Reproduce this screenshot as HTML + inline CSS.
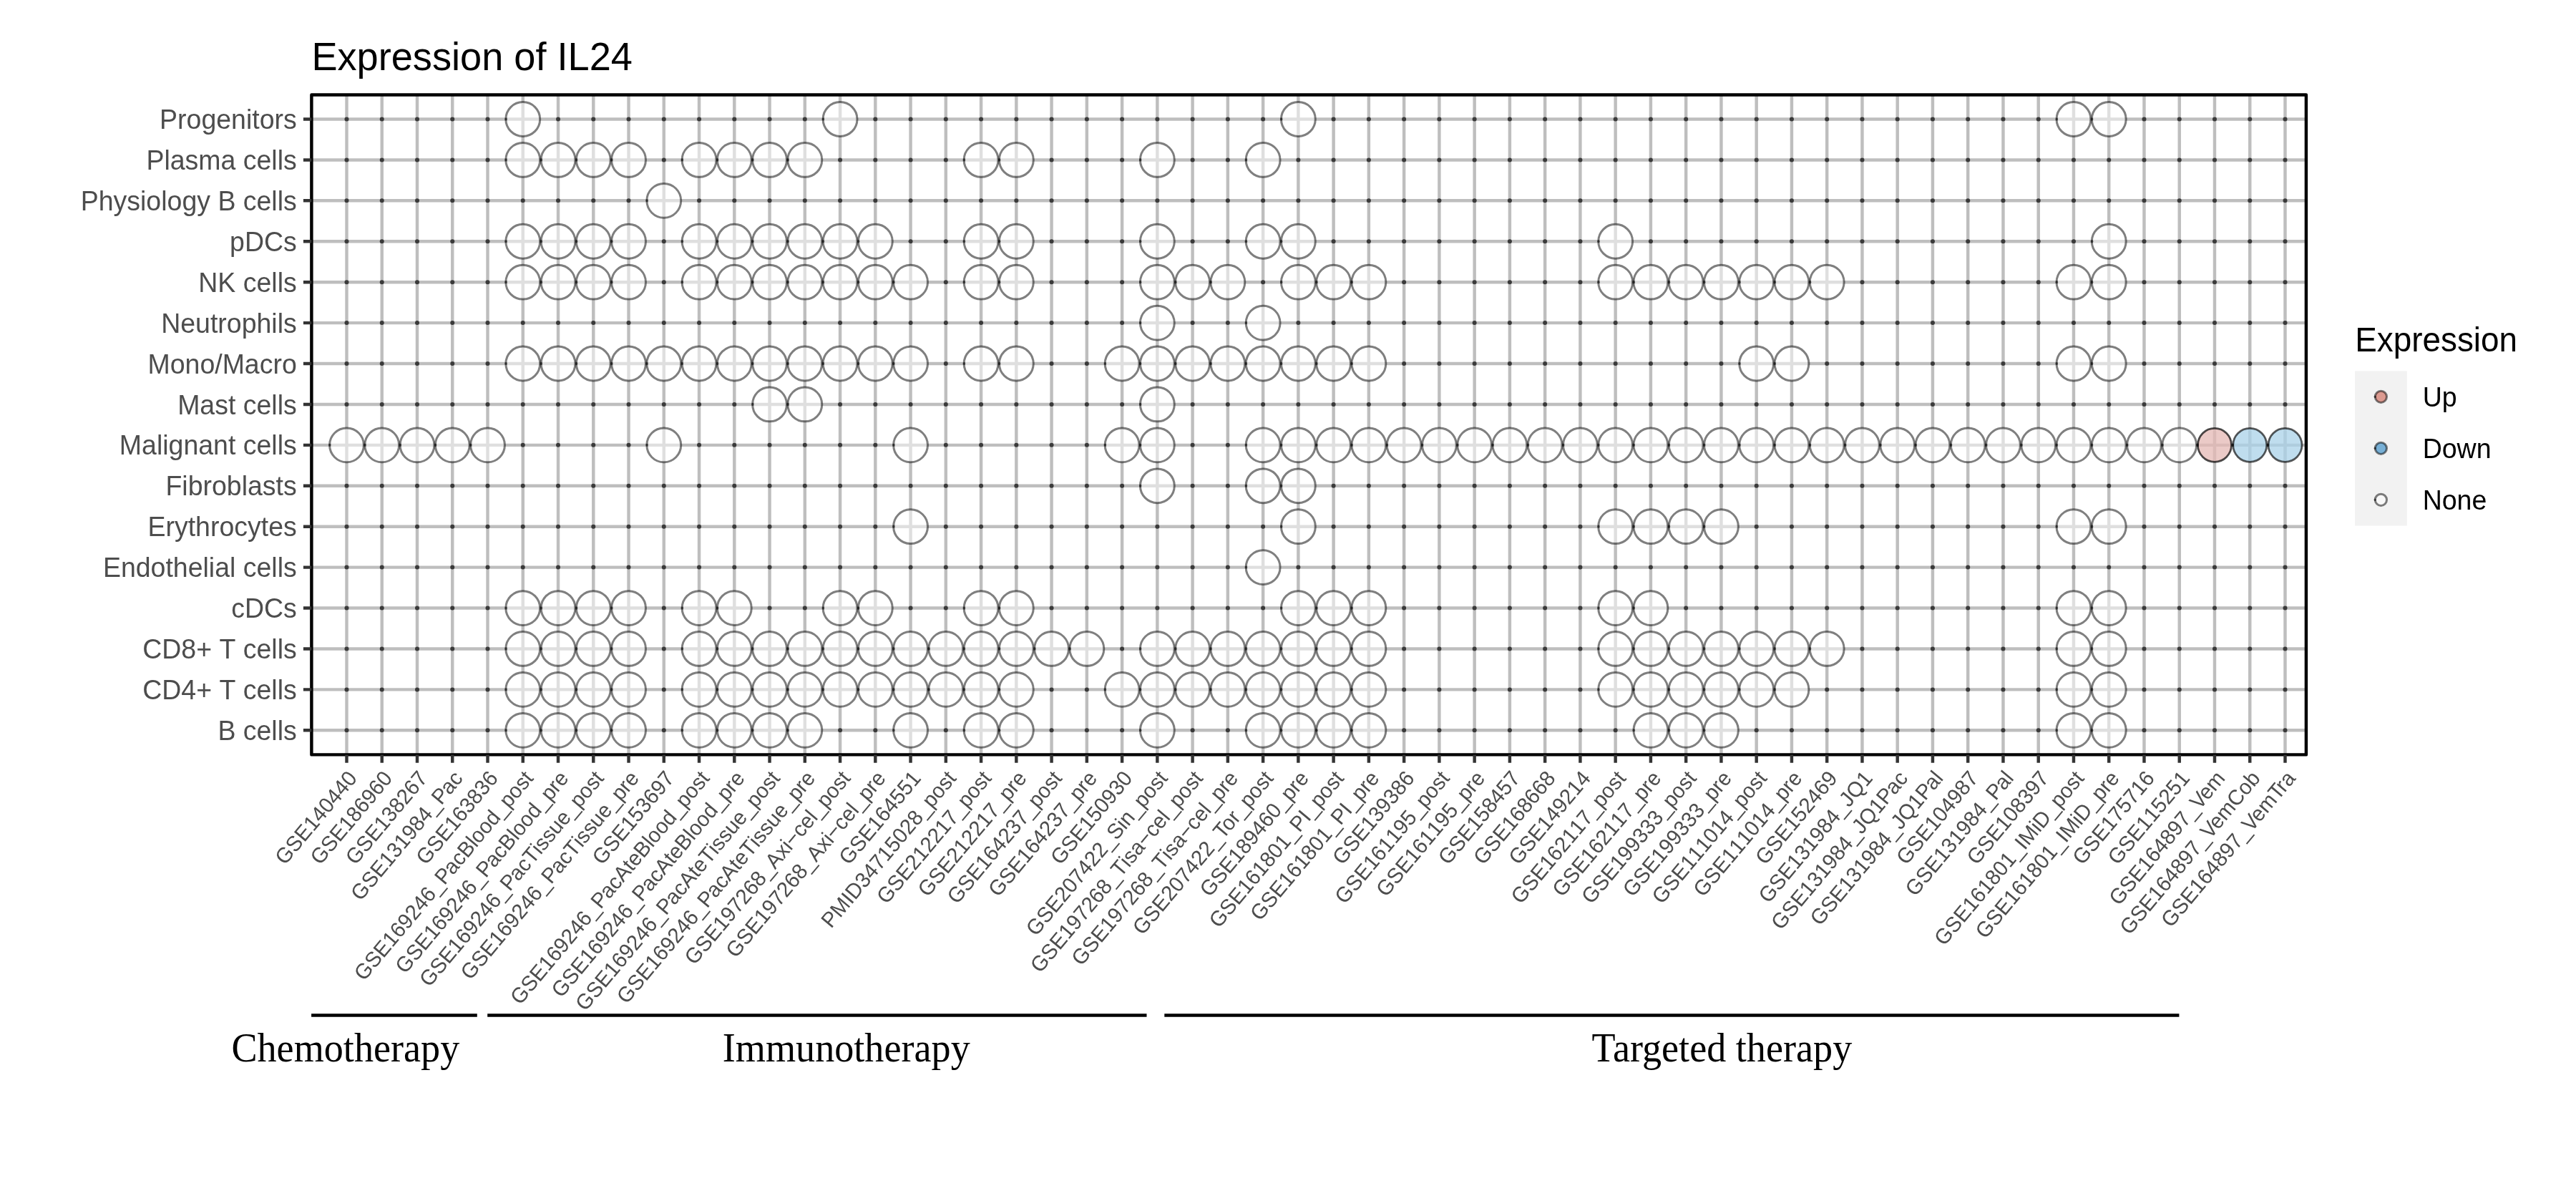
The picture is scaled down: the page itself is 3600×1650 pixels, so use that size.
<!DOCTYPE html>
<html><head><meta charset="utf-8"><title>Expression of IL24</title>
<style>html,body{margin:0;padding:0;background:#fff;width:3600px;height:1650px;overflow:hidden;}svg{display:block;will-change:transform;}text{font-family:"Liberation Sans",sans-serif;font-kerning:none;}text.serif{font-family:"Liberation Serif",serif;font-kerning:normal;}</style></head><body>
<svg width="3600" height="1650" viewBox="0 0 3600 1650">
<rect x="0" y="0" width="3600" height="1650" fill="#ffffff"/>
<text transform="translate(435.4,97.9) scale(1,1.03)" font-size="54.17" fill="#000">Expression of IL24</text>
<path d="M484.50 132.5V1054.4M533.75 132.5V1054.4M583.01 132.5V1054.4M632.26 132.5V1054.4M681.52 132.5V1054.4M730.77 132.5V1054.4M780.03 132.5V1054.4M829.28 132.5V1054.4M878.54 132.5V1054.4M927.79 132.5V1054.4M977.05 132.5V1054.4M1026.30 132.5V1054.4M1075.55 132.5V1054.4M1124.81 132.5V1054.4M1174.06 132.5V1054.4M1223.32 132.5V1054.4M1272.57 132.5V1054.4M1321.83 132.5V1054.4M1371.08 132.5V1054.4M1420.34 132.5V1054.4M1469.59 132.5V1054.4M1518.85 132.5V1054.4M1568.10 132.5V1054.4M1617.35 132.5V1054.4M1666.61 132.5V1054.4M1715.86 132.5V1054.4M1765.12 132.5V1054.4M1814.37 132.5V1054.4M1863.63 132.5V1054.4M1912.88 132.5V1054.4M1962.14 132.5V1054.4M2011.39 132.5V1054.4M2060.65 132.5V1054.4M2109.90 132.5V1054.4M2159.15 132.5V1054.4M2208.41 132.5V1054.4M2257.66 132.5V1054.4M2306.92 132.5V1054.4M2356.17 132.5V1054.4M2405.43 132.5V1054.4M2454.68 132.5V1054.4M2503.94 132.5V1054.4M2553.19 132.5V1054.4M2602.45 132.5V1054.4M2651.70 132.5V1054.4M2700.95 132.5V1054.4M2750.21 132.5V1054.4M2799.46 132.5V1054.4M2848.72 132.5V1054.4M2897.97 132.5V1054.4M2947.23 132.5V1054.4M2996.48 132.5V1054.4M3045.74 132.5V1054.4M3094.99 132.5V1054.4M3144.25 132.5V1054.4M3193.50 132.5V1054.4M435.4 166.50H3222.9M435.4 223.42H3222.9M435.4 280.34H3222.9M435.4 337.26H3222.9M435.4 394.18H3222.9M435.4 451.10H3222.9M435.4 508.02H3222.9M435.4 564.94H3222.9M435.4 621.86H3222.9M435.4 678.78H3222.9M435.4 735.70H3222.9M435.4 792.62H3222.9M435.4 849.54H3222.9M435.4 906.46H3222.9M435.4 963.38H3222.9M435.4 1020.30H3222.9" stroke="#bebebe" stroke-width="4.44" fill="none"/>
<g fill="#3a3a3a"><circle cx="484.50" cy="166.50" r="3.0"/><circle cx="533.75" cy="166.50" r="3.0"/><circle cx="583.01" cy="166.50" r="3.0"/><circle cx="632.26" cy="166.50" r="3.0"/><circle cx="681.52" cy="166.50" r="3.0"/><circle cx="780.03" cy="166.50" r="3.0"/><circle cx="829.28" cy="166.50" r="3.0"/><circle cx="878.54" cy="166.50" r="3.0"/><circle cx="927.79" cy="166.50" r="3.0"/><circle cx="977.05" cy="166.50" r="3.0"/><circle cx="1026.30" cy="166.50" r="3.0"/><circle cx="1075.55" cy="166.50" r="3.0"/><circle cx="1124.81" cy="166.50" r="3.0"/><circle cx="1223.32" cy="166.50" r="3.0"/><circle cx="1272.57" cy="166.50" r="3.0"/><circle cx="1321.83" cy="166.50" r="3.0"/><circle cx="1371.08" cy="166.50" r="3.0"/><circle cx="1420.34" cy="166.50" r="3.0"/><circle cx="1469.59" cy="166.50" r="3.0"/><circle cx="1518.85" cy="166.50" r="3.0"/><circle cx="1568.10" cy="166.50" r="3.0"/><circle cx="1617.35" cy="166.50" r="3.0"/><circle cx="1666.61" cy="166.50" r="3.0"/><circle cx="1715.86" cy="166.50" r="3.0"/><circle cx="1765.12" cy="166.50" r="3.0"/><circle cx="1863.63" cy="166.50" r="3.0"/><circle cx="1912.88" cy="166.50" r="3.0"/><circle cx="1962.14" cy="166.50" r="3.0"/><circle cx="2011.39" cy="166.50" r="3.0"/><circle cx="2060.65" cy="166.50" r="3.0"/><circle cx="2109.90" cy="166.50" r="3.0"/><circle cx="2159.15" cy="166.50" r="3.0"/><circle cx="2208.41" cy="166.50" r="3.0"/><circle cx="2257.66" cy="166.50" r="3.0"/><circle cx="2306.92" cy="166.50" r="3.0"/><circle cx="2356.17" cy="166.50" r="3.0"/><circle cx="2405.43" cy="166.50" r="3.0"/><circle cx="2454.68" cy="166.50" r="3.0"/><circle cx="2503.94" cy="166.50" r="3.0"/><circle cx="2553.19" cy="166.50" r="3.0"/><circle cx="2602.45" cy="166.50" r="3.0"/><circle cx="2651.70" cy="166.50" r="3.0"/><circle cx="2700.95" cy="166.50" r="3.0"/><circle cx="2750.21" cy="166.50" r="3.0"/><circle cx="2799.46" cy="166.50" r="3.0"/><circle cx="2848.72" cy="166.50" r="3.0"/><circle cx="2996.48" cy="166.50" r="3.0"/><circle cx="3045.74" cy="166.50" r="3.0"/><circle cx="3094.99" cy="166.50" r="3.0"/><circle cx="3144.25" cy="166.50" r="3.0"/><circle cx="3193.50" cy="166.50" r="3.0"/><circle cx="484.50" cy="223.42" r="3.0"/><circle cx="533.75" cy="223.42" r="3.0"/><circle cx="583.01" cy="223.42" r="3.0"/><circle cx="632.26" cy="223.42" r="3.0"/><circle cx="681.52" cy="223.42" r="3.0"/><circle cx="927.79" cy="223.42" r="3.0"/><circle cx="1174.06" cy="223.42" r="3.0"/><circle cx="1223.32" cy="223.42" r="3.0"/><circle cx="1272.57" cy="223.42" r="3.0"/><circle cx="1321.83" cy="223.42" r="3.0"/><circle cx="1469.59" cy="223.42" r="3.0"/><circle cx="1518.85" cy="223.42" r="3.0"/><circle cx="1568.10" cy="223.42" r="3.0"/><circle cx="1666.61" cy="223.42" r="3.0"/><circle cx="1715.86" cy="223.42" r="3.0"/><circle cx="1814.37" cy="223.42" r="3.0"/><circle cx="1863.63" cy="223.42" r="3.0"/><circle cx="1912.88" cy="223.42" r="3.0"/><circle cx="1962.14" cy="223.42" r="3.0"/><circle cx="2011.39" cy="223.42" r="3.0"/><circle cx="2060.65" cy="223.42" r="3.0"/><circle cx="2109.90" cy="223.42" r="3.0"/><circle cx="2159.15" cy="223.42" r="3.0"/><circle cx="2208.41" cy="223.42" r="3.0"/><circle cx="2257.66" cy="223.42" r="3.0"/><circle cx="2306.92" cy="223.42" r="3.0"/><circle cx="2356.17" cy="223.42" r="3.0"/><circle cx="2405.43" cy="223.42" r="3.0"/><circle cx="2454.68" cy="223.42" r="3.0"/><circle cx="2503.94" cy="223.42" r="3.0"/><circle cx="2553.19" cy="223.42" r="3.0"/><circle cx="2602.45" cy="223.42" r="3.0"/><circle cx="2651.70" cy="223.42" r="3.0"/><circle cx="2700.95" cy="223.42" r="3.0"/><circle cx="2750.21" cy="223.42" r="3.0"/><circle cx="2799.46" cy="223.42" r="3.0"/><circle cx="2848.72" cy="223.42" r="3.0"/><circle cx="2897.97" cy="223.42" r="3.0"/><circle cx="2947.23" cy="223.42" r="3.0"/><circle cx="2996.48" cy="223.42" r="3.0"/><circle cx="3045.74" cy="223.42" r="3.0"/><circle cx="3094.99" cy="223.42" r="3.0"/><circle cx="3144.25" cy="223.42" r="3.0"/><circle cx="3193.50" cy="223.42" r="3.0"/><circle cx="484.50" cy="280.34" r="3.0"/><circle cx="533.75" cy="280.34" r="3.0"/><circle cx="583.01" cy="280.34" r="3.0"/><circle cx="632.26" cy="280.34" r="3.0"/><circle cx="681.52" cy="280.34" r="3.0"/><circle cx="730.77" cy="280.34" r="3.0"/><circle cx="780.03" cy="280.34" r="3.0"/><circle cx="829.28" cy="280.34" r="3.0"/><circle cx="878.54" cy="280.34" r="3.0"/><circle cx="977.05" cy="280.34" r="3.0"/><circle cx="1026.30" cy="280.34" r="3.0"/><circle cx="1075.55" cy="280.34" r="3.0"/><circle cx="1124.81" cy="280.34" r="3.0"/><circle cx="1174.06" cy="280.34" r="3.0"/><circle cx="1223.32" cy="280.34" r="3.0"/><circle cx="1272.57" cy="280.34" r="3.0"/><circle cx="1321.83" cy="280.34" r="3.0"/><circle cx="1371.08" cy="280.34" r="3.0"/><circle cx="1420.34" cy="280.34" r="3.0"/><circle cx="1469.59" cy="280.34" r="3.0"/><circle cx="1518.85" cy="280.34" r="3.0"/><circle cx="1568.10" cy="280.34" r="3.0"/><circle cx="1617.35" cy="280.34" r="3.0"/><circle cx="1666.61" cy="280.34" r="3.0"/><circle cx="1715.86" cy="280.34" r="3.0"/><circle cx="1765.12" cy="280.34" r="3.0"/><circle cx="1814.37" cy="280.34" r="3.0"/><circle cx="1863.63" cy="280.34" r="3.0"/><circle cx="1912.88" cy="280.34" r="3.0"/><circle cx="1962.14" cy="280.34" r="3.0"/><circle cx="2011.39" cy="280.34" r="3.0"/><circle cx="2060.65" cy="280.34" r="3.0"/><circle cx="2109.90" cy="280.34" r="3.0"/><circle cx="2159.15" cy="280.34" r="3.0"/><circle cx="2208.41" cy="280.34" r="3.0"/><circle cx="2257.66" cy="280.34" r="3.0"/><circle cx="2306.92" cy="280.34" r="3.0"/><circle cx="2356.17" cy="280.34" r="3.0"/><circle cx="2405.43" cy="280.34" r="3.0"/><circle cx="2454.68" cy="280.34" r="3.0"/><circle cx="2503.94" cy="280.34" r="3.0"/><circle cx="2553.19" cy="280.34" r="3.0"/><circle cx="2602.45" cy="280.34" r="3.0"/><circle cx="2651.70" cy="280.34" r="3.0"/><circle cx="2700.95" cy="280.34" r="3.0"/><circle cx="2750.21" cy="280.34" r="3.0"/><circle cx="2799.46" cy="280.34" r="3.0"/><circle cx="2848.72" cy="280.34" r="3.0"/><circle cx="2897.97" cy="280.34" r="3.0"/><circle cx="2947.23" cy="280.34" r="3.0"/><circle cx="2996.48" cy="280.34" r="3.0"/><circle cx="3045.74" cy="280.34" r="3.0"/><circle cx="3094.99" cy="280.34" r="3.0"/><circle cx="3144.25" cy="280.34" r="3.0"/><circle cx="3193.50" cy="280.34" r="3.0"/><circle cx="484.50" cy="337.26" r="3.0"/><circle cx="533.75" cy="337.26" r="3.0"/><circle cx="583.01" cy="337.26" r="3.0"/><circle cx="632.26" cy="337.26" r="3.0"/><circle cx="681.52" cy="337.26" r="3.0"/><circle cx="927.79" cy="337.26" r="3.0"/><circle cx="1272.57" cy="337.26" r="3.0"/><circle cx="1321.83" cy="337.26" r="3.0"/><circle cx="1469.59" cy="337.26" r="3.0"/><circle cx="1518.85" cy="337.26" r="3.0"/><circle cx="1568.10" cy="337.26" r="3.0"/><circle cx="1666.61" cy="337.26" r="3.0"/><circle cx="1715.86" cy="337.26" r="3.0"/><circle cx="1863.63" cy="337.26" r="3.0"/><circle cx="1912.88" cy="337.26" r="3.0"/><circle cx="1962.14" cy="337.26" r="3.0"/><circle cx="2011.39" cy="337.26" r="3.0"/><circle cx="2060.65" cy="337.26" r="3.0"/><circle cx="2109.90" cy="337.26" r="3.0"/><circle cx="2159.15" cy="337.26" r="3.0"/><circle cx="2208.41" cy="337.26" r="3.0"/><circle cx="2306.92" cy="337.26" r="3.0"/><circle cx="2356.17" cy="337.26" r="3.0"/><circle cx="2405.43" cy="337.26" r="3.0"/><circle cx="2454.68" cy="337.26" r="3.0"/><circle cx="2503.94" cy="337.26" r="3.0"/><circle cx="2553.19" cy="337.26" r="3.0"/><circle cx="2602.45" cy="337.26" r="3.0"/><circle cx="2651.70" cy="337.26" r="3.0"/><circle cx="2700.95" cy="337.26" r="3.0"/><circle cx="2750.21" cy="337.26" r="3.0"/><circle cx="2799.46" cy="337.26" r="3.0"/><circle cx="2848.72" cy="337.26" r="3.0"/><circle cx="2897.97" cy="337.26" r="3.0"/><circle cx="2996.48" cy="337.26" r="3.0"/><circle cx="3045.74" cy="337.26" r="3.0"/><circle cx="3094.99" cy="337.26" r="3.0"/><circle cx="3144.25" cy="337.26" r="3.0"/><circle cx="3193.50" cy="337.26" r="3.0"/><circle cx="484.50" cy="394.18" r="3.0"/><circle cx="533.75" cy="394.18" r="3.0"/><circle cx="583.01" cy="394.18" r="3.0"/><circle cx="632.26" cy="394.18" r="3.0"/><circle cx="681.52" cy="394.18" r="3.0"/><circle cx="927.79" cy="394.18" r="3.0"/><circle cx="1321.83" cy="394.18" r="3.0"/><circle cx="1469.59" cy="394.18" r="3.0"/><circle cx="1518.85" cy="394.18" r="3.0"/><circle cx="1568.10" cy="394.18" r="3.0"/><circle cx="1765.12" cy="394.18" r="3.0"/><circle cx="1962.14" cy="394.18" r="3.0"/><circle cx="2011.39" cy="394.18" r="3.0"/><circle cx="2060.65" cy="394.18" r="3.0"/><circle cx="2109.90" cy="394.18" r="3.0"/><circle cx="2159.15" cy="394.18" r="3.0"/><circle cx="2208.41" cy="394.18" r="3.0"/><circle cx="2602.45" cy="394.18" r="3.0"/><circle cx="2651.70" cy="394.18" r="3.0"/><circle cx="2700.95" cy="394.18" r="3.0"/><circle cx="2750.21" cy="394.18" r="3.0"/><circle cx="2799.46" cy="394.18" r="3.0"/><circle cx="2848.72" cy="394.18" r="3.0"/><circle cx="2996.48" cy="394.18" r="3.0"/><circle cx="3045.74" cy="394.18" r="3.0"/><circle cx="3094.99" cy="394.18" r="3.0"/><circle cx="3144.25" cy="394.18" r="3.0"/><circle cx="3193.50" cy="394.18" r="3.0"/><circle cx="484.50" cy="451.10" r="3.0"/><circle cx="533.75" cy="451.10" r="3.0"/><circle cx="583.01" cy="451.10" r="3.0"/><circle cx="632.26" cy="451.10" r="3.0"/><circle cx="681.52" cy="451.10" r="3.0"/><circle cx="730.77" cy="451.10" r="3.0"/><circle cx="780.03" cy="451.10" r="3.0"/><circle cx="829.28" cy="451.10" r="3.0"/><circle cx="878.54" cy="451.10" r="3.0"/><circle cx="927.79" cy="451.10" r="3.0"/><circle cx="977.05" cy="451.10" r="3.0"/><circle cx="1026.30" cy="451.10" r="3.0"/><circle cx="1075.55" cy="451.10" r="3.0"/><circle cx="1124.81" cy="451.10" r="3.0"/><circle cx="1174.06" cy="451.10" r="3.0"/><circle cx="1223.32" cy="451.10" r="3.0"/><circle cx="1272.57" cy="451.10" r="3.0"/><circle cx="1321.83" cy="451.10" r="3.0"/><circle cx="1371.08" cy="451.10" r="3.0"/><circle cx="1420.34" cy="451.10" r="3.0"/><circle cx="1469.59" cy="451.10" r="3.0"/><circle cx="1518.85" cy="451.10" r="3.0"/><circle cx="1568.10" cy="451.10" r="3.0"/><circle cx="1666.61" cy="451.10" r="3.0"/><circle cx="1715.86" cy="451.10" r="3.0"/><circle cx="1814.37" cy="451.10" r="3.0"/><circle cx="1863.63" cy="451.10" r="3.0"/><circle cx="1912.88" cy="451.10" r="3.0"/><circle cx="1962.14" cy="451.10" r="3.0"/><circle cx="2011.39" cy="451.10" r="3.0"/><circle cx="2060.65" cy="451.10" r="3.0"/><circle cx="2109.90" cy="451.10" r="3.0"/><circle cx="2159.15" cy="451.10" r="3.0"/><circle cx="2208.41" cy="451.10" r="3.0"/><circle cx="2257.66" cy="451.10" r="3.0"/><circle cx="2306.92" cy="451.10" r="3.0"/><circle cx="2356.17" cy="451.10" r="3.0"/><circle cx="2405.43" cy="451.10" r="3.0"/><circle cx="2454.68" cy="451.10" r="3.0"/><circle cx="2503.94" cy="451.10" r="3.0"/><circle cx="2553.19" cy="451.10" r="3.0"/><circle cx="2602.45" cy="451.10" r="3.0"/><circle cx="2651.70" cy="451.10" r="3.0"/><circle cx="2700.95" cy="451.10" r="3.0"/><circle cx="2750.21" cy="451.10" r="3.0"/><circle cx="2799.46" cy="451.10" r="3.0"/><circle cx="2848.72" cy="451.10" r="3.0"/><circle cx="2897.97" cy="451.10" r="3.0"/><circle cx="2947.23" cy="451.10" r="3.0"/><circle cx="2996.48" cy="451.10" r="3.0"/><circle cx="3045.74" cy="451.10" r="3.0"/><circle cx="3094.99" cy="451.10" r="3.0"/><circle cx="3144.25" cy="451.10" r="3.0"/><circle cx="3193.50" cy="451.10" r="3.0"/><circle cx="484.50" cy="508.02" r="3.0"/><circle cx="533.75" cy="508.02" r="3.0"/><circle cx="583.01" cy="508.02" r="3.0"/><circle cx="632.26" cy="508.02" r="3.0"/><circle cx="681.52" cy="508.02" r="3.0"/><circle cx="1321.83" cy="508.02" r="3.0"/><circle cx="1469.59" cy="508.02" r="3.0"/><circle cx="1518.85" cy="508.02" r="3.0"/><circle cx="1962.14" cy="508.02" r="3.0"/><circle cx="2011.39" cy="508.02" r="3.0"/><circle cx="2060.65" cy="508.02" r="3.0"/><circle cx="2109.90" cy="508.02" r="3.0"/><circle cx="2159.15" cy="508.02" r="3.0"/><circle cx="2208.41" cy="508.02" r="3.0"/><circle cx="2257.66" cy="508.02" r="3.0"/><circle cx="2306.92" cy="508.02" r="3.0"/><circle cx="2356.17" cy="508.02" r="3.0"/><circle cx="2405.43" cy="508.02" r="3.0"/><circle cx="2553.19" cy="508.02" r="3.0"/><circle cx="2602.45" cy="508.02" r="3.0"/><circle cx="2651.70" cy="508.02" r="3.0"/><circle cx="2700.95" cy="508.02" r="3.0"/><circle cx="2750.21" cy="508.02" r="3.0"/><circle cx="2799.46" cy="508.02" r="3.0"/><circle cx="2848.72" cy="508.02" r="3.0"/><circle cx="2996.48" cy="508.02" r="3.0"/><circle cx="3045.74" cy="508.02" r="3.0"/><circle cx="3094.99" cy="508.02" r="3.0"/><circle cx="3144.25" cy="508.02" r="3.0"/><circle cx="3193.50" cy="508.02" r="3.0"/><circle cx="484.50" cy="564.94" r="3.0"/><circle cx="533.75" cy="564.94" r="3.0"/><circle cx="583.01" cy="564.94" r="3.0"/><circle cx="632.26" cy="564.94" r="3.0"/><circle cx="681.52" cy="564.94" r="3.0"/><circle cx="730.77" cy="564.94" r="3.0"/><circle cx="780.03" cy="564.94" r="3.0"/><circle cx="829.28" cy="564.94" r="3.0"/><circle cx="878.54" cy="564.94" r="3.0"/><circle cx="927.79" cy="564.94" r="3.0"/><circle cx="977.05" cy="564.94" r="3.0"/><circle cx="1026.30" cy="564.94" r="3.0"/><circle cx="1174.06" cy="564.94" r="3.0"/><circle cx="1223.32" cy="564.94" r="3.0"/><circle cx="1272.57" cy="564.94" r="3.0"/><circle cx="1321.83" cy="564.94" r="3.0"/><circle cx="1371.08" cy="564.94" r="3.0"/><circle cx="1420.34" cy="564.94" r="3.0"/><circle cx="1469.59" cy="564.94" r="3.0"/><circle cx="1518.85" cy="564.94" r="3.0"/><circle cx="1568.10" cy="564.94" r="3.0"/><circle cx="1666.61" cy="564.94" r="3.0"/><circle cx="1715.86" cy="564.94" r="3.0"/><circle cx="1765.12" cy="564.94" r="3.0"/><circle cx="1814.37" cy="564.94" r="3.0"/><circle cx="1863.63" cy="564.94" r="3.0"/><circle cx="1912.88" cy="564.94" r="3.0"/><circle cx="1962.14" cy="564.94" r="3.0"/><circle cx="2011.39" cy="564.94" r="3.0"/><circle cx="2060.65" cy="564.94" r="3.0"/><circle cx="2109.90" cy="564.94" r="3.0"/><circle cx="2159.15" cy="564.94" r="3.0"/><circle cx="2208.41" cy="564.94" r="3.0"/><circle cx="2257.66" cy="564.94" r="3.0"/><circle cx="2306.92" cy="564.94" r="3.0"/><circle cx="2356.17" cy="564.94" r="3.0"/><circle cx="2405.43" cy="564.94" r="3.0"/><circle cx="2454.68" cy="564.94" r="3.0"/><circle cx="2503.94" cy="564.94" r="3.0"/><circle cx="2553.19" cy="564.94" r="3.0"/><circle cx="2602.45" cy="564.94" r="3.0"/><circle cx="2651.70" cy="564.94" r="3.0"/><circle cx="2700.95" cy="564.94" r="3.0"/><circle cx="2750.21" cy="564.94" r="3.0"/><circle cx="2799.46" cy="564.94" r="3.0"/><circle cx="2848.72" cy="564.94" r="3.0"/><circle cx="2897.97" cy="564.94" r="3.0"/><circle cx="2947.23" cy="564.94" r="3.0"/><circle cx="2996.48" cy="564.94" r="3.0"/><circle cx="3045.74" cy="564.94" r="3.0"/><circle cx="3094.99" cy="564.94" r="3.0"/><circle cx="3144.25" cy="564.94" r="3.0"/><circle cx="3193.50" cy="564.94" r="3.0"/><circle cx="730.77" cy="621.86" r="3.0"/><circle cx="780.03" cy="621.86" r="3.0"/><circle cx="829.28" cy="621.86" r="3.0"/><circle cx="878.54" cy="621.86" r="3.0"/><circle cx="977.05" cy="621.86" r="3.0"/><circle cx="1026.30" cy="621.86" r="3.0"/><circle cx="1075.55" cy="621.86" r="3.0"/><circle cx="1124.81" cy="621.86" r="3.0"/><circle cx="1174.06" cy="621.86" r="3.0"/><circle cx="1223.32" cy="621.86" r="3.0"/><circle cx="1321.83" cy="621.86" r="3.0"/><circle cx="1371.08" cy="621.86" r="3.0"/><circle cx="1420.34" cy="621.86" r="3.0"/><circle cx="1469.59" cy="621.86" r="3.0"/><circle cx="1518.85" cy="621.86" r="3.0"/><circle cx="1666.61" cy="621.86" r="3.0"/><circle cx="1715.86" cy="621.86" r="3.0"/><circle cx="484.50" cy="678.78" r="3.0"/><circle cx="533.75" cy="678.78" r="3.0"/><circle cx="583.01" cy="678.78" r="3.0"/><circle cx="632.26" cy="678.78" r="3.0"/><circle cx="681.52" cy="678.78" r="3.0"/><circle cx="730.77" cy="678.78" r="3.0"/><circle cx="780.03" cy="678.78" r="3.0"/><circle cx="829.28" cy="678.78" r="3.0"/><circle cx="878.54" cy="678.78" r="3.0"/><circle cx="927.79" cy="678.78" r="3.0"/><circle cx="977.05" cy="678.78" r="3.0"/><circle cx="1026.30" cy="678.78" r="3.0"/><circle cx="1075.55" cy="678.78" r="3.0"/><circle cx="1124.81" cy="678.78" r="3.0"/><circle cx="1174.06" cy="678.78" r="3.0"/><circle cx="1223.32" cy="678.78" r="3.0"/><circle cx="1272.57" cy="678.78" r="3.0"/><circle cx="1321.83" cy="678.78" r="3.0"/><circle cx="1371.08" cy="678.78" r="3.0"/><circle cx="1420.34" cy="678.78" r="3.0"/><circle cx="1469.59" cy="678.78" r="3.0"/><circle cx="1518.85" cy="678.78" r="3.0"/><circle cx="1568.10" cy="678.78" r="3.0"/><circle cx="1666.61" cy="678.78" r="3.0"/><circle cx="1715.86" cy="678.78" r="3.0"/><circle cx="1863.63" cy="678.78" r="3.0"/><circle cx="1912.88" cy="678.78" r="3.0"/><circle cx="1962.14" cy="678.78" r="3.0"/><circle cx="2011.39" cy="678.78" r="3.0"/><circle cx="2060.65" cy="678.78" r="3.0"/><circle cx="2109.90" cy="678.78" r="3.0"/><circle cx="2159.15" cy="678.78" r="3.0"/><circle cx="2208.41" cy="678.78" r="3.0"/><circle cx="2257.66" cy="678.78" r="3.0"/><circle cx="2306.92" cy="678.78" r="3.0"/><circle cx="2356.17" cy="678.78" r="3.0"/><circle cx="2405.43" cy="678.78" r="3.0"/><circle cx="2454.68" cy="678.78" r="3.0"/><circle cx="2503.94" cy="678.78" r="3.0"/><circle cx="2553.19" cy="678.78" r="3.0"/><circle cx="2602.45" cy="678.78" r="3.0"/><circle cx="2651.70" cy="678.78" r="3.0"/><circle cx="2700.95" cy="678.78" r="3.0"/><circle cx="2750.21" cy="678.78" r="3.0"/><circle cx="2799.46" cy="678.78" r="3.0"/><circle cx="2848.72" cy="678.78" r="3.0"/><circle cx="2897.97" cy="678.78" r="3.0"/><circle cx="2947.23" cy="678.78" r="3.0"/><circle cx="2996.48" cy="678.78" r="3.0"/><circle cx="3045.74" cy="678.78" r="3.0"/><circle cx="3094.99" cy="678.78" r="3.0"/><circle cx="3144.25" cy="678.78" r="3.0"/><circle cx="3193.50" cy="678.78" r="3.0"/><circle cx="484.50" cy="735.70" r="3.0"/><circle cx="533.75" cy="735.70" r="3.0"/><circle cx="583.01" cy="735.70" r="3.0"/><circle cx="632.26" cy="735.70" r="3.0"/><circle cx="681.52" cy="735.70" r="3.0"/><circle cx="730.77" cy="735.70" r="3.0"/><circle cx="780.03" cy="735.70" r="3.0"/><circle cx="829.28" cy="735.70" r="3.0"/><circle cx="878.54" cy="735.70" r="3.0"/><circle cx="927.79" cy="735.70" r="3.0"/><circle cx="977.05" cy="735.70" r="3.0"/><circle cx="1026.30" cy="735.70" r="3.0"/><circle cx="1075.55" cy="735.70" r="3.0"/><circle cx="1124.81" cy="735.70" r="3.0"/><circle cx="1174.06" cy="735.70" r="3.0"/><circle cx="1223.32" cy="735.70" r="3.0"/><circle cx="1321.83" cy="735.70" r="3.0"/><circle cx="1371.08" cy="735.70" r="3.0"/><circle cx="1420.34" cy="735.70" r="3.0"/><circle cx="1469.59" cy="735.70" r="3.0"/><circle cx="1518.85" cy="735.70" r="3.0"/><circle cx="1568.10" cy="735.70" r="3.0"/><circle cx="1617.35" cy="735.70" r="3.0"/><circle cx="1666.61" cy="735.70" r="3.0"/><circle cx="1715.86" cy="735.70" r="3.0"/><circle cx="1765.12" cy="735.70" r="3.0"/><circle cx="1863.63" cy="735.70" r="3.0"/><circle cx="1912.88" cy="735.70" r="3.0"/><circle cx="1962.14" cy="735.70" r="3.0"/><circle cx="2011.39" cy="735.70" r="3.0"/><circle cx="2060.65" cy="735.70" r="3.0"/><circle cx="2109.90" cy="735.70" r="3.0"/><circle cx="2159.15" cy="735.70" r="3.0"/><circle cx="2208.41" cy="735.70" r="3.0"/><circle cx="2454.68" cy="735.70" r="3.0"/><circle cx="2503.94" cy="735.70" r="3.0"/><circle cx="2553.19" cy="735.70" r="3.0"/><circle cx="2602.45" cy="735.70" r="3.0"/><circle cx="2651.70" cy="735.70" r="3.0"/><circle cx="2700.95" cy="735.70" r="3.0"/><circle cx="2750.21" cy="735.70" r="3.0"/><circle cx="2799.46" cy="735.70" r="3.0"/><circle cx="2848.72" cy="735.70" r="3.0"/><circle cx="2996.48" cy="735.70" r="3.0"/><circle cx="3045.74" cy="735.70" r="3.0"/><circle cx="3094.99" cy="735.70" r="3.0"/><circle cx="3144.25" cy="735.70" r="3.0"/><circle cx="3193.50" cy="735.70" r="3.0"/><circle cx="484.50" cy="792.62" r="3.0"/><circle cx="533.75" cy="792.62" r="3.0"/><circle cx="583.01" cy="792.62" r="3.0"/><circle cx="632.26" cy="792.62" r="3.0"/><circle cx="681.52" cy="792.62" r="3.0"/><circle cx="730.77" cy="792.62" r="3.0"/><circle cx="780.03" cy="792.62" r="3.0"/><circle cx="829.28" cy="792.62" r="3.0"/><circle cx="878.54" cy="792.62" r="3.0"/><circle cx="927.79" cy="792.62" r="3.0"/><circle cx="977.05" cy="792.62" r="3.0"/><circle cx="1026.30" cy="792.62" r="3.0"/><circle cx="1075.55" cy="792.62" r="3.0"/><circle cx="1124.81" cy="792.62" r="3.0"/><circle cx="1174.06" cy="792.62" r="3.0"/><circle cx="1223.32" cy="792.62" r="3.0"/><circle cx="1272.57" cy="792.62" r="3.0"/><circle cx="1321.83" cy="792.62" r="3.0"/><circle cx="1371.08" cy="792.62" r="3.0"/><circle cx="1420.34" cy="792.62" r="3.0"/><circle cx="1469.59" cy="792.62" r="3.0"/><circle cx="1518.85" cy="792.62" r="3.0"/><circle cx="1568.10" cy="792.62" r="3.0"/><circle cx="1617.35" cy="792.62" r="3.0"/><circle cx="1666.61" cy="792.62" r="3.0"/><circle cx="1715.86" cy="792.62" r="3.0"/><circle cx="1814.37" cy="792.62" r="3.0"/><circle cx="1863.63" cy="792.62" r="3.0"/><circle cx="1912.88" cy="792.62" r="3.0"/><circle cx="1962.14" cy="792.62" r="3.0"/><circle cx="2011.39" cy="792.62" r="3.0"/><circle cx="2060.65" cy="792.62" r="3.0"/><circle cx="2109.90" cy="792.62" r="3.0"/><circle cx="2159.15" cy="792.62" r="3.0"/><circle cx="2208.41" cy="792.62" r="3.0"/><circle cx="2257.66" cy="792.62" r="3.0"/><circle cx="2306.92" cy="792.62" r="3.0"/><circle cx="2356.17" cy="792.62" r="3.0"/><circle cx="2405.43" cy="792.62" r="3.0"/><circle cx="2454.68" cy="792.62" r="3.0"/><circle cx="2503.94" cy="792.62" r="3.0"/><circle cx="2553.19" cy="792.62" r="3.0"/><circle cx="2602.45" cy="792.62" r="3.0"/><circle cx="2651.70" cy="792.62" r="3.0"/><circle cx="2700.95" cy="792.62" r="3.0"/><circle cx="2750.21" cy="792.62" r="3.0"/><circle cx="2799.46" cy="792.62" r="3.0"/><circle cx="2848.72" cy="792.62" r="3.0"/><circle cx="2897.97" cy="792.62" r="3.0"/><circle cx="2947.23" cy="792.62" r="3.0"/><circle cx="2996.48" cy="792.62" r="3.0"/><circle cx="3045.74" cy="792.62" r="3.0"/><circle cx="3094.99" cy="792.62" r="3.0"/><circle cx="3144.25" cy="792.62" r="3.0"/><circle cx="3193.50" cy="792.62" r="3.0"/><circle cx="484.50" cy="849.54" r="3.0"/><circle cx="533.75" cy="849.54" r="3.0"/><circle cx="583.01" cy="849.54" r="3.0"/><circle cx="632.26" cy="849.54" r="3.0"/><circle cx="681.52" cy="849.54" r="3.0"/><circle cx="927.79" cy="849.54" r="3.0"/><circle cx="1075.55" cy="849.54" r="3.0"/><circle cx="1124.81" cy="849.54" r="3.0"/><circle cx="1272.57" cy="849.54" r="3.0"/><circle cx="1321.83" cy="849.54" r="3.0"/><circle cx="1469.59" cy="849.54" r="3.0"/><circle cx="1518.85" cy="849.54" r="3.0"/><circle cx="1568.10" cy="849.54" r="3.0"/><circle cx="1617.35" cy="849.54" r="3.0"/><circle cx="1666.61" cy="849.54" r="3.0"/><circle cx="1715.86" cy="849.54" r="3.0"/><circle cx="1765.12" cy="849.54" r="3.0"/><circle cx="1962.14" cy="849.54" r="3.0"/><circle cx="2011.39" cy="849.54" r="3.0"/><circle cx="2060.65" cy="849.54" r="3.0"/><circle cx="2109.90" cy="849.54" r="3.0"/><circle cx="2159.15" cy="849.54" r="3.0"/><circle cx="2208.41" cy="849.54" r="3.0"/><circle cx="2356.17" cy="849.54" r="3.0"/><circle cx="2405.43" cy="849.54" r="3.0"/><circle cx="2454.68" cy="849.54" r="3.0"/><circle cx="2503.94" cy="849.54" r="3.0"/><circle cx="2553.19" cy="849.54" r="3.0"/><circle cx="2602.45" cy="849.54" r="3.0"/><circle cx="2651.70" cy="849.54" r="3.0"/><circle cx="2700.95" cy="849.54" r="3.0"/><circle cx="2750.21" cy="849.54" r="3.0"/><circle cx="2799.46" cy="849.54" r="3.0"/><circle cx="2848.72" cy="849.54" r="3.0"/><circle cx="2996.48" cy="849.54" r="3.0"/><circle cx="3045.74" cy="849.54" r="3.0"/><circle cx="3094.99" cy="849.54" r="3.0"/><circle cx="3144.25" cy="849.54" r="3.0"/><circle cx="3193.50" cy="849.54" r="3.0"/><circle cx="484.50" cy="906.46" r="3.0"/><circle cx="533.75" cy="906.46" r="3.0"/><circle cx="583.01" cy="906.46" r="3.0"/><circle cx="632.26" cy="906.46" r="3.0"/><circle cx="681.52" cy="906.46" r="3.0"/><circle cx="927.79" cy="906.46" r="3.0"/><circle cx="1568.10" cy="906.46" r="3.0"/><circle cx="1962.14" cy="906.46" r="3.0"/><circle cx="2011.39" cy="906.46" r="3.0"/><circle cx="2060.65" cy="906.46" r="3.0"/><circle cx="2109.90" cy="906.46" r="3.0"/><circle cx="2159.15" cy="906.46" r="3.0"/><circle cx="2208.41" cy="906.46" r="3.0"/><circle cx="2602.45" cy="906.46" r="3.0"/><circle cx="2651.70" cy="906.46" r="3.0"/><circle cx="2700.95" cy="906.46" r="3.0"/><circle cx="2750.21" cy="906.46" r="3.0"/><circle cx="2799.46" cy="906.46" r="3.0"/><circle cx="2848.72" cy="906.46" r="3.0"/><circle cx="2996.48" cy="906.46" r="3.0"/><circle cx="3045.74" cy="906.46" r="3.0"/><circle cx="3094.99" cy="906.46" r="3.0"/><circle cx="3144.25" cy="906.46" r="3.0"/><circle cx="3193.50" cy="906.46" r="3.0"/><circle cx="484.50" cy="963.38" r="3.0"/><circle cx="533.75" cy="963.38" r="3.0"/><circle cx="583.01" cy="963.38" r="3.0"/><circle cx="632.26" cy="963.38" r="3.0"/><circle cx="681.52" cy="963.38" r="3.0"/><circle cx="927.79" cy="963.38" r="3.0"/><circle cx="1469.59" cy="963.38" r="3.0"/><circle cx="1518.85" cy="963.38" r="3.0"/><circle cx="1962.14" cy="963.38" r="3.0"/><circle cx="2011.39" cy="963.38" r="3.0"/><circle cx="2060.65" cy="963.38" r="3.0"/><circle cx="2109.90" cy="963.38" r="3.0"/><circle cx="2159.15" cy="963.38" r="3.0"/><circle cx="2208.41" cy="963.38" r="3.0"/><circle cx="2553.19" cy="963.38" r="3.0"/><circle cx="2602.45" cy="963.38" r="3.0"/><circle cx="2651.70" cy="963.38" r="3.0"/><circle cx="2700.95" cy="963.38" r="3.0"/><circle cx="2750.21" cy="963.38" r="3.0"/><circle cx="2799.46" cy="963.38" r="3.0"/><circle cx="2848.72" cy="963.38" r="3.0"/><circle cx="2996.48" cy="963.38" r="3.0"/><circle cx="3045.74" cy="963.38" r="3.0"/><circle cx="3094.99" cy="963.38" r="3.0"/><circle cx="3144.25" cy="963.38" r="3.0"/><circle cx="3193.50" cy="963.38" r="3.0"/><circle cx="484.50" cy="1020.30" r="3.0"/><circle cx="533.75" cy="1020.30" r="3.0"/><circle cx="583.01" cy="1020.30" r="3.0"/><circle cx="632.26" cy="1020.30" r="3.0"/><circle cx="681.52" cy="1020.30" r="3.0"/><circle cx="927.79" cy="1020.30" r="3.0"/><circle cx="1174.06" cy="1020.30" r="3.0"/><circle cx="1223.32" cy="1020.30" r="3.0"/><circle cx="1321.83" cy="1020.30" r="3.0"/><circle cx="1469.59" cy="1020.30" r="3.0"/><circle cx="1518.85" cy="1020.30" r="3.0"/><circle cx="1568.10" cy="1020.30" r="3.0"/><circle cx="1666.61" cy="1020.30" r="3.0"/><circle cx="1715.86" cy="1020.30" r="3.0"/><circle cx="1962.14" cy="1020.30" r="3.0"/><circle cx="2011.39" cy="1020.30" r="3.0"/><circle cx="2060.65" cy="1020.30" r="3.0"/><circle cx="2109.90" cy="1020.30" r="3.0"/><circle cx="2159.15" cy="1020.30" r="3.0"/><circle cx="2208.41" cy="1020.30" r="3.0"/><circle cx="2257.66" cy="1020.30" r="3.0"/><circle cx="2454.68" cy="1020.30" r="3.0"/><circle cx="2503.94" cy="1020.30" r="3.0"/><circle cx="2553.19" cy="1020.30" r="3.0"/><circle cx="2602.45" cy="1020.30" r="3.0"/><circle cx="2651.70" cy="1020.30" r="3.0"/><circle cx="2700.95" cy="1020.30" r="3.0"/><circle cx="2750.21" cy="1020.30" r="3.0"/><circle cx="2799.46" cy="1020.30" r="3.0"/><circle cx="2848.72" cy="1020.30" r="3.0"/><circle cx="2996.48" cy="1020.30" r="3.0"/><circle cx="3045.74" cy="1020.30" r="3.0"/><circle cx="3094.99" cy="1020.30" r="3.0"/><circle cx="3144.25" cy="1020.30" r="3.0"/><circle cx="3193.50" cy="1020.30" r="3.0"/></g>
<g><circle cx="730.77" cy="166.50" r="23.9" fill="rgba(255,255,255,0.5)" stroke="rgba(0,0,0,0.5)" stroke-width="3"/><ellipse cx="707.17" cy="166.50" rx="1.7" ry="2.1" fill="rgba(0,0,0,0.55)"/><circle cx="1174.06" cy="166.50" r="23.9" fill="rgba(255,255,255,0.5)" stroke="rgba(0,0,0,0.5)" stroke-width="3"/><ellipse cx="1150.46" cy="166.50" rx="1.7" ry="2.1" fill="rgba(0,0,0,0.55)"/><circle cx="1814.37" cy="166.50" r="23.9" fill="rgba(255,255,255,0.5)" stroke="rgba(0,0,0,0.5)" stroke-width="3"/><ellipse cx="1790.77" cy="166.50" rx="1.7" ry="2.1" fill="rgba(0,0,0,0.55)"/><circle cx="2897.97" cy="166.50" r="23.9" fill="rgba(255,255,255,0.5)" stroke="rgba(0,0,0,0.5)" stroke-width="3"/><ellipse cx="2874.37" cy="166.50" rx="1.7" ry="2.1" fill="rgba(0,0,0,0.55)"/><circle cx="2947.23" cy="166.50" r="23.9" fill="rgba(255,255,255,0.5)" stroke="rgba(0,0,0,0.5)" stroke-width="3"/><ellipse cx="2923.63" cy="166.50" rx="1.7" ry="2.1" fill="rgba(0,0,0,0.55)"/><circle cx="730.77" cy="223.42" r="23.9" fill="rgba(255,255,255,0.5)" stroke="rgba(0,0,0,0.5)" stroke-width="3"/><ellipse cx="707.17" cy="223.42" rx="1.7" ry="2.1" fill="rgba(0,0,0,0.55)"/><circle cx="780.03" cy="223.42" r="23.9" fill="rgba(255,255,255,0.5)" stroke="rgba(0,0,0,0.5)" stroke-width="3"/><ellipse cx="756.43" cy="223.42" rx="1.7" ry="2.1" fill="rgba(0,0,0,0.55)"/><circle cx="829.28" cy="223.42" r="23.9" fill="rgba(255,255,255,0.5)" stroke="rgba(0,0,0,0.5)" stroke-width="3"/><ellipse cx="805.68" cy="223.42" rx="1.7" ry="2.1" fill="rgba(0,0,0,0.55)"/><circle cx="878.54" cy="223.42" r="23.9" fill="rgba(255,255,255,0.5)" stroke="rgba(0,0,0,0.5)" stroke-width="3"/><ellipse cx="854.94" cy="223.42" rx="1.7" ry="2.1" fill="rgba(0,0,0,0.55)"/><circle cx="977.05" cy="223.42" r="23.9" fill="rgba(255,255,255,0.5)" stroke="rgba(0,0,0,0.5)" stroke-width="3"/><ellipse cx="953.45" cy="223.42" rx="1.7" ry="2.1" fill="rgba(0,0,0,0.55)"/><circle cx="1026.30" cy="223.42" r="23.9" fill="rgba(255,255,255,0.5)" stroke="rgba(0,0,0,0.5)" stroke-width="3"/><ellipse cx="1002.70" cy="223.42" rx="1.7" ry="2.1" fill="rgba(0,0,0,0.55)"/><circle cx="1075.55" cy="223.42" r="23.9" fill="rgba(255,255,255,0.5)" stroke="rgba(0,0,0,0.5)" stroke-width="3"/><ellipse cx="1051.95" cy="223.42" rx="1.7" ry="2.1" fill="rgba(0,0,0,0.55)"/><circle cx="1124.81" cy="223.42" r="23.9" fill="rgba(255,255,255,0.5)" stroke="rgba(0,0,0,0.5)" stroke-width="3"/><ellipse cx="1101.21" cy="223.42" rx="1.7" ry="2.1" fill="rgba(0,0,0,0.55)"/><circle cx="1371.08" cy="223.42" r="23.9" fill="rgba(255,255,255,0.5)" stroke="rgba(0,0,0,0.5)" stroke-width="3"/><ellipse cx="1347.48" cy="223.42" rx="1.7" ry="2.1" fill="rgba(0,0,0,0.55)"/><circle cx="1420.34" cy="223.42" r="23.9" fill="rgba(255,255,255,0.5)" stroke="rgba(0,0,0,0.5)" stroke-width="3"/><ellipse cx="1396.74" cy="223.42" rx="1.7" ry="2.1" fill="rgba(0,0,0,0.55)"/><circle cx="1617.35" cy="223.42" r="23.9" fill="rgba(255,255,255,0.5)" stroke="rgba(0,0,0,0.5)" stroke-width="3"/><ellipse cx="1593.75" cy="223.42" rx="1.7" ry="2.1" fill="rgba(0,0,0,0.55)"/><circle cx="1765.12" cy="223.42" r="23.9" fill="rgba(255,255,255,0.5)" stroke="rgba(0,0,0,0.5)" stroke-width="3"/><ellipse cx="1741.52" cy="223.42" rx="1.7" ry="2.1" fill="rgba(0,0,0,0.55)"/><circle cx="927.79" cy="280.34" r="23.9" fill="rgba(255,255,255,0.5)" stroke="rgba(0,0,0,0.5)" stroke-width="3"/><ellipse cx="904.19" cy="280.34" rx="1.7" ry="2.1" fill="rgba(0,0,0,0.55)"/><circle cx="730.77" cy="337.26" r="23.9" fill="rgba(255,255,255,0.5)" stroke="rgba(0,0,0,0.5)" stroke-width="3"/><ellipse cx="707.17" cy="337.26" rx="1.7" ry="2.1" fill="rgba(0,0,0,0.55)"/><circle cx="780.03" cy="337.26" r="23.9" fill="rgba(255,255,255,0.5)" stroke="rgba(0,0,0,0.5)" stroke-width="3"/><ellipse cx="756.43" cy="337.26" rx="1.7" ry="2.1" fill="rgba(0,0,0,0.55)"/><circle cx="829.28" cy="337.26" r="23.9" fill="rgba(255,255,255,0.5)" stroke="rgba(0,0,0,0.5)" stroke-width="3"/><ellipse cx="805.68" cy="337.26" rx="1.7" ry="2.1" fill="rgba(0,0,0,0.55)"/><circle cx="878.54" cy="337.26" r="23.9" fill="rgba(255,255,255,0.5)" stroke="rgba(0,0,0,0.5)" stroke-width="3"/><ellipse cx="854.94" cy="337.26" rx="1.7" ry="2.1" fill="rgba(0,0,0,0.55)"/><circle cx="977.05" cy="337.26" r="23.9" fill="rgba(255,255,255,0.5)" stroke="rgba(0,0,0,0.5)" stroke-width="3"/><ellipse cx="953.45" cy="337.26" rx="1.7" ry="2.1" fill="rgba(0,0,0,0.55)"/><circle cx="1026.30" cy="337.26" r="23.9" fill="rgba(255,255,255,0.5)" stroke="rgba(0,0,0,0.5)" stroke-width="3"/><ellipse cx="1002.70" cy="337.26" rx="1.7" ry="2.1" fill="rgba(0,0,0,0.55)"/><circle cx="1075.55" cy="337.26" r="23.9" fill="rgba(255,255,255,0.5)" stroke="rgba(0,0,0,0.5)" stroke-width="3"/><ellipse cx="1051.95" cy="337.26" rx="1.7" ry="2.1" fill="rgba(0,0,0,0.55)"/><circle cx="1124.81" cy="337.26" r="23.9" fill="rgba(255,255,255,0.5)" stroke="rgba(0,0,0,0.5)" stroke-width="3"/><ellipse cx="1101.21" cy="337.26" rx="1.7" ry="2.1" fill="rgba(0,0,0,0.55)"/><circle cx="1174.06" cy="337.26" r="23.9" fill="rgba(255,255,255,0.5)" stroke="rgba(0,0,0,0.5)" stroke-width="3"/><ellipse cx="1150.46" cy="337.26" rx="1.7" ry="2.1" fill="rgba(0,0,0,0.55)"/><circle cx="1223.32" cy="337.26" r="23.9" fill="rgba(255,255,255,0.5)" stroke="rgba(0,0,0,0.5)" stroke-width="3"/><ellipse cx="1199.72" cy="337.26" rx="1.7" ry="2.1" fill="rgba(0,0,0,0.55)"/><circle cx="1371.08" cy="337.26" r="23.9" fill="rgba(255,255,255,0.5)" stroke="rgba(0,0,0,0.5)" stroke-width="3"/><ellipse cx="1347.48" cy="337.26" rx="1.7" ry="2.1" fill="rgba(0,0,0,0.55)"/><circle cx="1420.34" cy="337.26" r="23.9" fill="rgba(255,255,255,0.5)" stroke="rgba(0,0,0,0.5)" stroke-width="3"/><ellipse cx="1396.74" cy="337.26" rx="1.7" ry="2.1" fill="rgba(0,0,0,0.55)"/><circle cx="1617.35" cy="337.26" r="23.9" fill="rgba(255,255,255,0.5)" stroke="rgba(0,0,0,0.5)" stroke-width="3"/><ellipse cx="1593.75" cy="337.26" rx="1.7" ry="2.1" fill="rgba(0,0,0,0.55)"/><circle cx="1765.12" cy="337.26" r="23.9" fill="rgba(255,255,255,0.5)" stroke="rgba(0,0,0,0.5)" stroke-width="3"/><ellipse cx="1741.52" cy="337.26" rx="1.7" ry="2.1" fill="rgba(0,0,0,0.55)"/><circle cx="1814.37" cy="337.26" r="23.9" fill="rgba(255,255,255,0.5)" stroke="rgba(0,0,0,0.5)" stroke-width="3"/><ellipse cx="1790.77" cy="337.26" rx="1.7" ry="2.1" fill="rgba(0,0,0,0.55)"/><circle cx="2257.66" cy="337.26" r="23.9" fill="rgba(255,255,255,0.5)" stroke="rgba(0,0,0,0.5)" stroke-width="3"/><ellipse cx="2234.06" cy="337.26" rx="1.7" ry="2.1" fill="rgba(0,0,0,0.55)"/><circle cx="2947.23" cy="337.26" r="23.9" fill="rgba(255,255,255,0.5)" stroke="rgba(0,0,0,0.5)" stroke-width="3"/><ellipse cx="2923.63" cy="337.26" rx="1.7" ry="2.1" fill="rgba(0,0,0,0.55)"/><circle cx="730.77" cy="394.18" r="23.9" fill="rgba(255,255,255,0.5)" stroke="rgba(0,0,0,0.5)" stroke-width="3"/><ellipse cx="707.17" cy="394.18" rx="1.7" ry="2.1" fill="rgba(0,0,0,0.55)"/><circle cx="780.03" cy="394.18" r="23.9" fill="rgba(255,255,255,0.5)" stroke="rgba(0,0,0,0.5)" stroke-width="3"/><ellipse cx="756.43" cy="394.18" rx="1.7" ry="2.1" fill="rgba(0,0,0,0.55)"/><circle cx="829.28" cy="394.18" r="23.9" fill="rgba(255,255,255,0.5)" stroke="rgba(0,0,0,0.5)" stroke-width="3"/><ellipse cx="805.68" cy="394.18" rx="1.7" ry="2.1" fill="rgba(0,0,0,0.55)"/><circle cx="878.54" cy="394.18" r="23.9" fill="rgba(255,255,255,0.5)" stroke="rgba(0,0,0,0.5)" stroke-width="3"/><ellipse cx="854.94" cy="394.18" rx="1.7" ry="2.1" fill="rgba(0,0,0,0.55)"/><circle cx="977.05" cy="394.18" r="23.9" fill="rgba(255,255,255,0.5)" stroke="rgba(0,0,0,0.5)" stroke-width="3"/><ellipse cx="953.45" cy="394.18" rx="1.7" ry="2.1" fill="rgba(0,0,0,0.55)"/><circle cx="1026.30" cy="394.18" r="23.9" fill="rgba(255,255,255,0.5)" stroke="rgba(0,0,0,0.5)" stroke-width="3"/><ellipse cx="1002.70" cy="394.18" rx="1.7" ry="2.1" fill="rgba(0,0,0,0.55)"/><circle cx="1075.55" cy="394.18" r="23.9" fill="rgba(255,255,255,0.5)" stroke="rgba(0,0,0,0.5)" stroke-width="3"/><ellipse cx="1051.95" cy="394.18" rx="1.7" ry="2.1" fill="rgba(0,0,0,0.55)"/><circle cx="1124.81" cy="394.18" r="23.9" fill="rgba(255,255,255,0.5)" stroke="rgba(0,0,0,0.5)" stroke-width="3"/><ellipse cx="1101.21" cy="394.18" rx="1.7" ry="2.1" fill="rgba(0,0,0,0.55)"/><circle cx="1174.06" cy="394.18" r="23.9" fill="rgba(255,255,255,0.5)" stroke="rgba(0,0,0,0.5)" stroke-width="3"/><ellipse cx="1150.46" cy="394.18" rx="1.7" ry="2.1" fill="rgba(0,0,0,0.55)"/><circle cx="1223.32" cy="394.18" r="23.9" fill="rgba(255,255,255,0.5)" stroke="rgba(0,0,0,0.5)" stroke-width="3"/><ellipse cx="1199.72" cy="394.18" rx="1.7" ry="2.1" fill="rgba(0,0,0,0.55)"/><circle cx="1272.57" cy="394.18" r="23.9" fill="rgba(255,255,255,0.5)" stroke="rgba(0,0,0,0.5)" stroke-width="3"/><ellipse cx="1248.97" cy="394.18" rx="1.7" ry="2.1" fill="rgba(0,0,0,0.55)"/><circle cx="1371.08" cy="394.18" r="23.9" fill="rgba(255,255,255,0.5)" stroke="rgba(0,0,0,0.5)" stroke-width="3"/><ellipse cx="1347.48" cy="394.18" rx="1.7" ry="2.1" fill="rgba(0,0,0,0.55)"/><circle cx="1420.34" cy="394.18" r="23.9" fill="rgba(255,255,255,0.5)" stroke="rgba(0,0,0,0.5)" stroke-width="3"/><ellipse cx="1396.74" cy="394.18" rx="1.7" ry="2.1" fill="rgba(0,0,0,0.55)"/><circle cx="1617.35" cy="394.18" r="23.9" fill="rgba(255,255,255,0.5)" stroke="rgba(0,0,0,0.5)" stroke-width="3"/><ellipse cx="1593.75" cy="394.18" rx="1.7" ry="2.1" fill="rgba(0,0,0,0.55)"/><circle cx="1666.61" cy="394.18" r="23.9" fill="rgba(255,255,255,0.5)" stroke="rgba(0,0,0,0.5)" stroke-width="3"/><ellipse cx="1643.01" cy="394.18" rx="1.7" ry="2.1" fill="rgba(0,0,0,0.55)"/><circle cx="1715.86" cy="394.18" r="23.9" fill="rgba(255,255,255,0.5)" stroke="rgba(0,0,0,0.5)" stroke-width="3"/><ellipse cx="1692.26" cy="394.18" rx="1.7" ry="2.1" fill="rgba(0,0,0,0.55)"/><circle cx="1814.37" cy="394.18" r="23.9" fill="rgba(255,255,255,0.5)" stroke="rgba(0,0,0,0.5)" stroke-width="3"/><ellipse cx="1790.77" cy="394.18" rx="1.7" ry="2.1" fill="rgba(0,0,0,0.55)"/><circle cx="1863.63" cy="394.18" r="23.9" fill="rgba(255,255,255,0.5)" stroke="rgba(0,0,0,0.5)" stroke-width="3"/><ellipse cx="1840.03" cy="394.18" rx="1.7" ry="2.1" fill="rgba(0,0,0,0.55)"/><circle cx="1912.88" cy="394.18" r="23.9" fill="rgba(255,255,255,0.5)" stroke="rgba(0,0,0,0.5)" stroke-width="3"/><ellipse cx="1889.28" cy="394.18" rx="1.7" ry="2.1" fill="rgba(0,0,0,0.55)"/><circle cx="2257.66" cy="394.18" r="23.9" fill="rgba(255,255,255,0.5)" stroke="rgba(0,0,0,0.5)" stroke-width="3"/><ellipse cx="2234.06" cy="394.18" rx="1.7" ry="2.1" fill="rgba(0,0,0,0.55)"/><circle cx="2306.92" cy="394.18" r="23.9" fill="rgba(255,255,255,0.5)" stroke="rgba(0,0,0,0.5)" stroke-width="3"/><ellipse cx="2283.32" cy="394.18" rx="1.7" ry="2.1" fill="rgba(0,0,0,0.55)"/><circle cx="2356.17" cy="394.18" r="23.9" fill="rgba(255,255,255,0.5)" stroke="rgba(0,0,0,0.5)" stroke-width="3"/><ellipse cx="2332.57" cy="394.18" rx="1.7" ry="2.1" fill="rgba(0,0,0,0.55)"/><circle cx="2405.43" cy="394.18" r="23.9" fill="rgba(255,255,255,0.5)" stroke="rgba(0,0,0,0.5)" stroke-width="3"/><ellipse cx="2381.83" cy="394.18" rx="1.7" ry="2.1" fill="rgba(0,0,0,0.55)"/><circle cx="2454.68" cy="394.18" r="23.9" fill="rgba(255,255,255,0.5)" stroke="rgba(0,0,0,0.5)" stroke-width="3"/><ellipse cx="2431.08" cy="394.18" rx="1.7" ry="2.1" fill="rgba(0,0,0,0.55)"/><circle cx="2503.94" cy="394.18" r="23.9" fill="rgba(255,255,255,0.5)" stroke="rgba(0,0,0,0.5)" stroke-width="3"/><ellipse cx="2480.34" cy="394.18" rx="1.7" ry="2.1" fill="rgba(0,0,0,0.55)"/><circle cx="2553.19" cy="394.18" r="23.9" fill="rgba(255,255,255,0.5)" stroke="rgba(0,0,0,0.5)" stroke-width="3"/><ellipse cx="2529.59" cy="394.18" rx="1.7" ry="2.1" fill="rgba(0,0,0,0.55)"/><circle cx="2897.97" cy="394.18" r="23.9" fill="rgba(255,255,255,0.5)" stroke="rgba(0,0,0,0.5)" stroke-width="3"/><ellipse cx="2874.37" cy="394.18" rx="1.7" ry="2.1" fill="rgba(0,0,0,0.55)"/><circle cx="2947.23" cy="394.18" r="23.9" fill="rgba(255,255,255,0.5)" stroke="rgba(0,0,0,0.5)" stroke-width="3"/><ellipse cx="2923.63" cy="394.18" rx="1.7" ry="2.1" fill="rgba(0,0,0,0.55)"/><circle cx="1617.35" cy="451.10" r="23.9" fill="rgba(255,255,255,0.5)" stroke="rgba(0,0,0,0.5)" stroke-width="3"/><ellipse cx="1593.75" cy="451.10" rx="1.7" ry="2.1" fill="rgba(0,0,0,0.55)"/><circle cx="1765.12" cy="451.10" r="23.9" fill="rgba(255,255,255,0.5)" stroke="rgba(0,0,0,0.5)" stroke-width="3"/><ellipse cx="1741.52" cy="451.10" rx="1.7" ry="2.1" fill="rgba(0,0,0,0.55)"/><circle cx="730.77" cy="508.02" r="23.9" fill="rgba(255,255,255,0.5)" stroke="rgba(0,0,0,0.5)" stroke-width="3"/><ellipse cx="707.17" cy="508.02" rx="1.7" ry="2.1" fill="rgba(0,0,0,0.55)"/><circle cx="780.03" cy="508.02" r="23.9" fill="rgba(255,255,255,0.5)" stroke="rgba(0,0,0,0.5)" stroke-width="3"/><ellipse cx="756.43" cy="508.02" rx="1.7" ry="2.1" fill="rgba(0,0,0,0.55)"/><circle cx="829.28" cy="508.02" r="23.9" fill="rgba(255,255,255,0.5)" stroke="rgba(0,0,0,0.5)" stroke-width="3"/><ellipse cx="805.68" cy="508.02" rx="1.7" ry="2.1" fill="rgba(0,0,0,0.55)"/><circle cx="878.54" cy="508.02" r="23.9" fill="rgba(255,255,255,0.5)" stroke="rgba(0,0,0,0.5)" stroke-width="3"/><ellipse cx="854.94" cy="508.02" rx="1.7" ry="2.1" fill="rgba(0,0,0,0.55)"/><circle cx="927.79" cy="508.02" r="23.9" fill="rgba(255,255,255,0.5)" stroke="rgba(0,0,0,0.5)" stroke-width="3"/><ellipse cx="904.19" cy="508.02" rx="1.7" ry="2.1" fill="rgba(0,0,0,0.55)"/><circle cx="977.05" cy="508.02" r="23.9" fill="rgba(255,255,255,0.5)" stroke="rgba(0,0,0,0.5)" stroke-width="3"/><ellipse cx="953.45" cy="508.02" rx="1.7" ry="2.1" fill="rgba(0,0,0,0.55)"/><circle cx="1026.30" cy="508.02" r="23.9" fill="rgba(255,255,255,0.5)" stroke="rgba(0,0,0,0.5)" stroke-width="3"/><ellipse cx="1002.70" cy="508.02" rx="1.7" ry="2.1" fill="rgba(0,0,0,0.55)"/><circle cx="1075.55" cy="508.02" r="23.9" fill="rgba(255,255,255,0.5)" stroke="rgba(0,0,0,0.5)" stroke-width="3"/><ellipse cx="1051.95" cy="508.02" rx="1.7" ry="2.1" fill="rgba(0,0,0,0.55)"/><circle cx="1124.81" cy="508.02" r="23.9" fill="rgba(255,255,255,0.5)" stroke="rgba(0,0,0,0.5)" stroke-width="3"/><ellipse cx="1101.21" cy="508.02" rx="1.7" ry="2.1" fill="rgba(0,0,0,0.55)"/><circle cx="1174.06" cy="508.02" r="23.9" fill="rgba(255,255,255,0.5)" stroke="rgba(0,0,0,0.5)" stroke-width="3"/><ellipse cx="1150.46" cy="508.02" rx="1.7" ry="2.1" fill="rgba(0,0,0,0.55)"/><circle cx="1223.32" cy="508.02" r="23.9" fill="rgba(255,255,255,0.5)" stroke="rgba(0,0,0,0.5)" stroke-width="3"/><ellipse cx="1199.72" cy="508.02" rx="1.7" ry="2.1" fill="rgba(0,0,0,0.55)"/><circle cx="1272.57" cy="508.02" r="23.9" fill="rgba(255,255,255,0.5)" stroke="rgba(0,0,0,0.5)" stroke-width="3"/><ellipse cx="1248.97" cy="508.02" rx="1.7" ry="2.1" fill="rgba(0,0,0,0.55)"/><circle cx="1371.08" cy="508.02" r="23.9" fill="rgba(255,255,255,0.5)" stroke="rgba(0,0,0,0.5)" stroke-width="3"/><ellipse cx="1347.48" cy="508.02" rx="1.7" ry="2.1" fill="rgba(0,0,0,0.55)"/><circle cx="1420.34" cy="508.02" r="23.9" fill="rgba(255,255,255,0.5)" stroke="rgba(0,0,0,0.5)" stroke-width="3"/><ellipse cx="1396.74" cy="508.02" rx="1.7" ry="2.1" fill="rgba(0,0,0,0.55)"/><circle cx="1568.10" cy="508.02" r="23.9" fill="rgba(255,255,255,0.5)" stroke="rgba(0,0,0,0.5)" stroke-width="3"/><ellipse cx="1544.50" cy="508.02" rx="1.7" ry="2.1" fill="rgba(0,0,0,0.55)"/><circle cx="1617.35" cy="508.02" r="23.9" fill="rgba(255,255,255,0.5)" stroke="rgba(0,0,0,0.5)" stroke-width="3"/><ellipse cx="1593.75" cy="508.02" rx="1.7" ry="2.1" fill="rgba(0,0,0,0.55)"/><circle cx="1666.61" cy="508.02" r="23.9" fill="rgba(255,255,255,0.5)" stroke="rgba(0,0,0,0.5)" stroke-width="3"/><ellipse cx="1643.01" cy="508.02" rx="1.7" ry="2.1" fill="rgba(0,0,0,0.55)"/><circle cx="1715.86" cy="508.02" r="23.9" fill="rgba(255,255,255,0.5)" stroke="rgba(0,0,0,0.5)" stroke-width="3"/><ellipse cx="1692.26" cy="508.02" rx="1.7" ry="2.1" fill="rgba(0,0,0,0.55)"/><circle cx="1765.12" cy="508.02" r="23.9" fill="rgba(255,255,255,0.5)" stroke="rgba(0,0,0,0.5)" stroke-width="3"/><ellipse cx="1741.52" cy="508.02" rx="1.7" ry="2.1" fill="rgba(0,0,0,0.55)"/><circle cx="1814.37" cy="508.02" r="23.9" fill="rgba(255,255,255,0.5)" stroke="rgba(0,0,0,0.5)" stroke-width="3"/><ellipse cx="1790.77" cy="508.02" rx="1.7" ry="2.1" fill="rgba(0,0,0,0.55)"/><circle cx="1863.63" cy="508.02" r="23.9" fill="rgba(255,255,255,0.5)" stroke="rgba(0,0,0,0.5)" stroke-width="3"/><ellipse cx="1840.03" cy="508.02" rx="1.7" ry="2.1" fill="rgba(0,0,0,0.55)"/><circle cx="1912.88" cy="508.02" r="23.9" fill="rgba(255,255,255,0.5)" stroke="rgba(0,0,0,0.5)" stroke-width="3"/><ellipse cx="1889.28" cy="508.02" rx="1.7" ry="2.1" fill="rgba(0,0,0,0.55)"/><circle cx="2454.68" cy="508.02" r="23.9" fill="rgba(255,255,255,0.5)" stroke="rgba(0,0,0,0.5)" stroke-width="3"/><ellipse cx="2431.08" cy="508.02" rx="1.7" ry="2.1" fill="rgba(0,0,0,0.55)"/><circle cx="2503.94" cy="508.02" r="23.9" fill="rgba(255,255,255,0.5)" stroke="rgba(0,0,0,0.5)" stroke-width="3"/><ellipse cx="2480.34" cy="508.02" rx="1.7" ry="2.1" fill="rgba(0,0,0,0.55)"/><circle cx="2897.97" cy="508.02" r="23.9" fill="rgba(255,255,255,0.5)" stroke="rgba(0,0,0,0.5)" stroke-width="3"/><ellipse cx="2874.37" cy="508.02" rx="1.7" ry="2.1" fill="rgba(0,0,0,0.55)"/><circle cx="2947.23" cy="508.02" r="23.9" fill="rgba(255,255,255,0.5)" stroke="rgba(0,0,0,0.5)" stroke-width="3"/><ellipse cx="2923.63" cy="508.02" rx="1.7" ry="2.1" fill="rgba(0,0,0,0.55)"/><circle cx="1075.55" cy="564.94" r="23.9" fill="rgba(255,255,255,0.5)" stroke="rgba(0,0,0,0.5)" stroke-width="3"/><ellipse cx="1051.95" cy="564.94" rx="1.7" ry="2.1" fill="rgba(0,0,0,0.55)"/><circle cx="1124.81" cy="564.94" r="23.9" fill="rgba(255,255,255,0.5)" stroke="rgba(0,0,0,0.5)" stroke-width="3"/><ellipse cx="1101.21" cy="564.94" rx="1.7" ry="2.1" fill="rgba(0,0,0,0.55)"/><circle cx="1617.35" cy="564.94" r="23.9" fill="rgba(255,255,255,0.5)" stroke="rgba(0,0,0,0.5)" stroke-width="3"/><ellipse cx="1593.75" cy="564.94" rx="1.7" ry="2.1" fill="rgba(0,0,0,0.55)"/><circle cx="484.50" cy="621.86" r="23.9" fill="rgba(255,255,255,0.5)" stroke="rgba(0,0,0,0.5)" stroke-width="3"/><ellipse cx="460.90" cy="621.86" rx="1.7" ry="2.1" fill="rgba(0,0,0,0.55)"/><circle cx="533.75" cy="621.86" r="23.9" fill="rgba(255,255,255,0.5)" stroke="rgba(0,0,0,0.5)" stroke-width="3"/><ellipse cx="510.15" cy="621.86" rx="1.7" ry="2.1" fill="rgba(0,0,0,0.55)"/><circle cx="583.01" cy="621.86" r="23.9" fill="rgba(255,255,255,0.5)" stroke="rgba(0,0,0,0.5)" stroke-width="3"/><ellipse cx="559.41" cy="621.86" rx="1.7" ry="2.1" fill="rgba(0,0,0,0.55)"/><circle cx="632.26" cy="621.86" r="23.9" fill="rgba(255,255,255,0.5)" stroke="rgba(0,0,0,0.5)" stroke-width="3"/><ellipse cx="608.66" cy="621.86" rx="1.7" ry="2.1" fill="rgba(0,0,0,0.55)"/><circle cx="681.52" cy="621.86" r="23.9" fill="rgba(255,255,255,0.5)" stroke="rgba(0,0,0,0.5)" stroke-width="3"/><ellipse cx="657.92" cy="621.86" rx="1.7" ry="2.1" fill="rgba(0,0,0,0.55)"/><circle cx="927.79" cy="621.86" r="23.9" fill="rgba(255,255,255,0.5)" stroke="rgba(0,0,0,0.5)" stroke-width="3"/><ellipse cx="904.19" cy="621.86" rx="1.7" ry="2.1" fill="rgba(0,0,0,0.55)"/><circle cx="1272.57" cy="621.86" r="23.9" fill="rgba(255,255,255,0.5)" stroke="rgba(0,0,0,0.5)" stroke-width="3"/><ellipse cx="1248.97" cy="621.86" rx="1.7" ry="2.1" fill="rgba(0,0,0,0.55)"/><circle cx="1568.10" cy="621.86" r="23.9" fill="rgba(255,255,255,0.5)" stroke="rgba(0,0,0,0.5)" stroke-width="3"/><ellipse cx="1544.50" cy="621.86" rx="1.7" ry="2.1" fill="rgba(0,0,0,0.55)"/><circle cx="1617.35" cy="621.86" r="23.9" fill="rgba(255,255,255,0.5)" stroke="rgba(0,0,0,0.5)" stroke-width="3"/><ellipse cx="1593.75" cy="621.86" rx="1.7" ry="2.1" fill="rgba(0,0,0,0.55)"/><circle cx="1765.12" cy="621.86" r="23.9" fill="rgba(255,255,255,0.5)" stroke="rgba(0,0,0,0.5)" stroke-width="3"/><ellipse cx="1741.52" cy="621.86" rx="1.7" ry="2.1" fill="rgba(0,0,0,0.55)"/><circle cx="1814.37" cy="621.86" r="23.9" fill="rgba(255,255,255,0.5)" stroke="rgba(0,0,0,0.5)" stroke-width="3"/><ellipse cx="1790.77" cy="621.86" rx="1.7" ry="2.1" fill="rgba(0,0,0,0.55)"/><circle cx="1863.63" cy="621.86" r="23.9" fill="rgba(255,255,255,0.5)" stroke="rgba(0,0,0,0.5)" stroke-width="3"/><ellipse cx="1840.03" cy="621.86" rx="1.7" ry="2.1" fill="rgba(0,0,0,0.55)"/><circle cx="1912.88" cy="621.86" r="23.9" fill="rgba(255,255,255,0.5)" stroke="rgba(0,0,0,0.5)" stroke-width="3"/><ellipse cx="1889.28" cy="621.86" rx="1.7" ry="2.1" fill="rgba(0,0,0,0.55)"/><circle cx="1962.14" cy="621.86" r="23.9" fill="rgba(255,255,255,0.5)" stroke="rgba(0,0,0,0.5)" stroke-width="3"/><ellipse cx="1938.54" cy="621.86" rx="1.7" ry="2.1" fill="rgba(0,0,0,0.55)"/><circle cx="2011.39" cy="621.86" r="23.9" fill="rgba(255,255,255,0.5)" stroke="rgba(0,0,0,0.5)" stroke-width="3"/><ellipse cx="1987.79" cy="621.86" rx="1.7" ry="2.1" fill="rgba(0,0,0,0.55)"/><circle cx="2060.65" cy="621.86" r="23.9" fill="rgba(255,255,255,0.5)" stroke="rgba(0,0,0,0.5)" stroke-width="3"/><ellipse cx="2037.05" cy="621.86" rx="1.7" ry="2.1" fill="rgba(0,0,0,0.55)"/><circle cx="2109.90" cy="621.86" r="23.9" fill="rgba(255,255,255,0.5)" stroke="rgba(0,0,0,0.5)" stroke-width="3"/><ellipse cx="2086.30" cy="621.86" rx="1.7" ry="2.1" fill="rgba(0,0,0,0.55)"/><circle cx="2159.15" cy="621.86" r="23.9" fill="rgba(255,255,255,0.5)" stroke="rgba(0,0,0,0.5)" stroke-width="3"/><ellipse cx="2135.55" cy="621.86" rx="1.7" ry="2.1" fill="rgba(0,0,0,0.55)"/><circle cx="2208.41" cy="621.86" r="23.9" fill="rgba(255,255,255,0.5)" stroke="rgba(0,0,0,0.5)" stroke-width="3"/><ellipse cx="2184.81" cy="621.86" rx="1.7" ry="2.1" fill="rgba(0,0,0,0.55)"/><circle cx="2257.66" cy="621.86" r="23.9" fill="rgba(255,255,255,0.5)" stroke="rgba(0,0,0,0.5)" stroke-width="3"/><ellipse cx="2234.06" cy="621.86" rx="1.7" ry="2.1" fill="rgba(0,0,0,0.55)"/><circle cx="2306.92" cy="621.86" r="23.9" fill="rgba(255,255,255,0.5)" stroke="rgba(0,0,0,0.5)" stroke-width="3"/><ellipse cx="2283.32" cy="621.86" rx="1.7" ry="2.1" fill="rgba(0,0,0,0.55)"/><circle cx="2356.17" cy="621.86" r="23.9" fill="rgba(255,255,255,0.5)" stroke="rgba(0,0,0,0.5)" stroke-width="3"/><ellipse cx="2332.57" cy="621.86" rx="1.7" ry="2.1" fill="rgba(0,0,0,0.55)"/><circle cx="2405.43" cy="621.86" r="23.9" fill="rgba(255,255,255,0.5)" stroke="rgba(0,0,0,0.5)" stroke-width="3"/><ellipse cx="2381.83" cy="621.86" rx="1.7" ry="2.1" fill="rgba(0,0,0,0.55)"/><circle cx="2454.68" cy="621.86" r="23.9" fill="rgba(255,255,255,0.5)" stroke="rgba(0,0,0,0.5)" stroke-width="3"/><ellipse cx="2431.08" cy="621.86" rx="1.7" ry="2.1" fill="rgba(0,0,0,0.55)"/><circle cx="2503.94" cy="621.86" r="23.9" fill="rgba(255,255,255,0.5)" stroke="rgba(0,0,0,0.5)" stroke-width="3"/><ellipse cx="2480.34" cy="621.86" rx="1.7" ry="2.1" fill="rgba(0,0,0,0.55)"/><circle cx="2553.19" cy="621.86" r="23.9" fill="rgba(255,255,255,0.5)" stroke="rgba(0,0,0,0.5)" stroke-width="3"/><ellipse cx="2529.59" cy="621.86" rx="1.7" ry="2.1" fill="rgba(0,0,0,0.55)"/><circle cx="2602.45" cy="621.86" r="23.9" fill="rgba(255,255,255,0.5)" stroke="rgba(0,0,0,0.5)" stroke-width="3"/><ellipse cx="2578.85" cy="621.86" rx="1.7" ry="2.1" fill="rgba(0,0,0,0.55)"/><circle cx="2651.70" cy="621.86" r="23.9" fill="rgba(255,255,255,0.5)" stroke="rgba(0,0,0,0.5)" stroke-width="3"/><ellipse cx="2628.10" cy="621.86" rx="1.7" ry="2.1" fill="rgba(0,0,0,0.55)"/><circle cx="2700.95" cy="621.86" r="23.9" fill="rgba(255,255,255,0.5)" stroke="rgba(0,0,0,0.5)" stroke-width="3"/><ellipse cx="2677.35" cy="621.86" rx="1.7" ry="2.1" fill="rgba(0,0,0,0.55)"/><circle cx="2750.21" cy="621.86" r="23.9" fill="rgba(255,255,255,0.5)" stroke="rgba(0,0,0,0.5)" stroke-width="3"/><ellipse cx="2726.61" cy="621.86" rx="1.7" ry="2.1" fill="rgba(0,0,0,0.55)"/><circle cx="2799.46" cy="621.86" r="23.9" fill="rgba(255,255,255,0.5)" stroke="rgba(0,0,0,0.5)" stroke-width="3"/><ellipse cx="2775.86" cy="621.86" rx="1.7" ry="2.1" fill="rgba(0,0,0,0.55)"/><circle cx="2848.72" cy="621.86" r="23.9" fill="rgba(255,255,255,0.5)" stroke="rgba(0,0,0,0.5)" stroke-width="3"/><ellipse cx="2825.12" cy="621.86" rx="1.7" ry="2.1" fill="rgba(0,0,0,0.55)"/><circle cx="2897.97" cy="621.86" r="23.9" fill="rgba(255,255,255,0.5)" stroke="rgba(0,0,0,0.5)" stroke-width="3"/><ellipse cx="2874.37" cy="621.86" rx="1.7" ry="2.1" fill="rgba(0,0,0,0.55)"/><circle cx="2947.23" cy="621.86" r="23.9" fill="rgba(255,255,255,0.5)" stroke="rgba(0,0,0,0.5)" stroke-width="3"/><ellipse cx="2923.63" cy="621.86" rx="1.7" ry="2.1" fill="rgba(0,0,0,0.55)"/><circle cx="2996.48" cy="621.86" r="23.9" fill="rgba(255,255,255,0.5)" stroke="rgba(0,0,0,0.5)" stroke-width="3"/><ellipse cx="2972.88" cy="621.86" rx="1.7" ry="2.1" fill="rgba(0,0,0,0.55)"/><circle cx="3045.74" cy="621.86" r="23.9" fill="rgba(255,255,255,0.5)" stroke="rgba(0,0,0,0.5)" stroke-width="3"/><ellipse cx="3022.14" cy="621.86" rx="1.7" ry="2.1" fill="rgba(0,0,0,0.55)"/><circle cx="3094.99" cy="621.86" r="23.5" fill="rgba(228,184,180,0.75)" stroke="rgba(0,0,0,0.7)" stroke-width="2.7"/><ellipse cx="3070.99" cy="621.86" rx="1.9" ry="2.3" fill="rgba(0,0,0,0.6)"/><circle cx="3144.25" cy="621.86" r="23.5" fill="rgba(170,210,232,0.75)" stroke="rgba(0,0,0,0.65)" stroke-width="2.7"/><ellipse cx="3120.25" cy="621.86" rx="1.9" ry="2.3" fill="rgba(0,0,0,0.6)"/><circle cx="3193.50" cy="621.86" r="23.5" fill="rgba(170,210,232,0.75)" stroke="rgba(0,0,0,0.65)" stroke-width="2.7"/><ellipse cx="3169.50" cy="621.86" rx="1.9" ry="2.3" fill="rgba(0,0,0,0.6)"/><circle cx="1617.35" cy="678.78" r="23.9" fill="rgba(255,255,255,0.5)" stroke="rgba(0,0,0,0.5)" stroke-width="3"/><ellipse cx="1593.75" cy="678.78" rx="1.7" ry="2.1" fill="rgba(0,0,0,0.55)"/><circle cx="1765.12" cy="678.78" r="23.9" fill="rgba(255,255,255,0.5)" stroke="rgba(0,0,0,0.5)" stroke-width="3"/><ellipse cx="1741.52" cy="678.78" rx="1.7" ry="2.1" fill="rgba(0,0,0,0.55)"/><circle cx="1814.37" cy="678.78" r="23.9" fill="rgba(255,255,255,0.5)" stroke="rgba(0,0,0,0.5)" stroke-width="3"/><ellipse cx="1790.77" cy="678.78" rx="1.7" ry="2.1" fill="rgba(0,0,0,0.55)"/><circle cx="1272.57" cy="735.70" r="23.9" fill="rgba(255,255,255,0.5)" stroke="rgba(0,0,0,0.5)" stroke-width="3"/><ellipse cx="1248.97" cy="735.70" rx="1.7" ry="2.1" fill="rgba(0,0,0,0.55)"/><circle cx="1814.37" cy="735.70" r="23.9" fill="rgba(255,255,255,0.5)" stroke="rgba(0,0,0,0.5)" stroke-width="3"/><ellipse cx="1790.77" cy="735.70" rx="1.7" ry="2.1" fill="rgba(0,0,0,0.55)"/><circle cx="2257.66" cy="735.70" r="23.9" fill="rgba(255,255,255,0.5)" stroke="rgba(0,0,0,0.5)" stroke-width="3"/><ellipse cx="2234.06" cy="735.70" rx="1.7" ry="2.1" fill="rgba(0,0,0,0.55)"/><circle cx="2306.92" cy="735.70" r="23.9" fill="rgba(255,255,255,0.5)" stroke="rgba(0,0,0,0.5)" stroke-width="3"/><ellipse cx="2283.32" cy="735.70" rx="1.7" ry="2.1" fill="rgba(0,0,0,0.55)"/><circle cx="2356.17" cy="735.70" r="23.9" fill="rgba(255,255,255,0.5)" stroke="rgba(0,0,0,0.5)" stroke-width="3"/><ellipse cx="2332.57" cy="735.70" rx="1.7" ry="2.1" fill="rgba(0,0,0,0.55)"/><circle cx="2405.43" cy="735.70" r="23.9" fill="rgba(255,255,255,0.5)" stroke="rgba(0,0,0,0.5)" stroke-width="3"/><ellipse cx="2381.83" cy="735.70" rx="1.7" ry="2.1" fill="rgba(0,0,0,0.55)"/><circle cx="2897.97" cy="735.70" r="23.9" fill="rgba(255,255,255,0.5)" stroke="rgba(0,0,0,0.5)" stroke-width="3"/><ellipse cx="2874.37" cy="735.70" rx="1.7" ry="2.1" fill="rgba(0,0,0,0.55)"/><circle cx="2947.23" cy="735.70" r="23.9" fill="rgba(255,255,255,0.5)" stroke="rgba(0,0,0,0.5)" stroke-width="3"/><ellipse cx="2923.63" cy="735.70" rx="1.7" ry="2.1" fill="rgba(0,0,0,0.55)"/><circle cx="1765.12" cy="792.62" r="23.9" fill="rgba(255,255,255,0.5)" stroke="rgba(0,0,0,0.5)" stroke-width="3"/><ellipse cx="1741.52" cy="792.62" rx="1.7" ry="2.1" fill="rgba(0,0,0,0.55)"/><circle cx="730.77" cy="849.54" r="23.9" fill="rgba(255,255,255,0.5)" stroke="rgba(0,0,0,0.5)" stroke-width="3"/><ellipse cx="707.17" cy="849.54" rx="1.7" ry="2.1" fill="rgba(0,0,0,0.55)"/><circle cx="780.03" cy="849.54" r="23.9" fill="rgba(255,255,255,0.5)" stroke="rgba(0,0,0,0.5)" stroke-width="3"/><ellipse cx="756.43" cy="849.54" rx="1.7" ry="2.1" fill="rgba(0,0,0,0.55)"/><circle cx="829.28" cy="849.54" r="23.9" fill="rgba(255,255,255,0.5)" stroke="rgba(0,0,0,0.5)" stroke-width="3"/><ellipse cx="805.68" cy="849.54" rx="1.7" ry="2.1" fill="rgba(0,0,0,0.55)"/><circle cx="878.54" cy="849.54" r="23.9" fill="rgba(255,255,255,0.5)" stroke="rgba(0,0,0,0.5)" stroke-width="3"/><ellipse cx="854.94" cy="849.54" rx="1.7" ry="2.1" fill="rgba(0,0,0,0.55)"/><circle cx="977.05" cy="849.54" r="23.9" fill="rgba(255,255,255,0.5)" stroke="rgba(0,0,0,0.5)" stroke-width="3"/><ellipse cx="953.45" cy="849.54" rx="1.7" ry="2.1" fill="rgba(0,0,0,0.55)"/><circle cx="1026.30" cy="849.54" r="23.9" fill="rgba(255,255,255,0.5)" stroke="rgba(0,0,0,0.5)" stroke-width="3"/><ellipse cx="1002.70" cy="849.54" rx="1.7" ry="2.1" fill="rgba(0,0,0,0.55)"/><circle cx="1174.06" cy="849.54" r="23.9" fill="rgba(255,255,255,0.5)" stroke="rgba(0,0,0,0.5)" stroke-width="3"/><ellipse cx="1150.46" cy="849.54" rx="1.7" ry="2.1" fill="rgba(0,0,0,0.55)"/><circle cx="1223.32" cy="849.54" r="23.9" fill="rgba(255,255,255,0.5)" stroke="rgba(0,0,0,0.5)" stroke-width="3"/><ellipse cx="1199.72" cy="849.54" rx="1.7" ry="2.1" fill="rgba(0,0,0,0.55)"/><circle cx="1371.08" cy="849.54" r="23.9" fill="rgba(255,255,255,0.5)" stroke="rgba(0,0,0,0.5)" stroke-width="3"/><ellipse cx="1347.48" cy="849.54" rx="1.7" ry="2.1" fill="rgba(0,0,0,0.55)"/><circle cx="1420.34" cy="849.54" r="23.9" fill="rgba(255,255,255,0.5)" stroke="rgba(0,0,0,0.5)" stroke-width="3"/><ellipse cx="1396.74" cy="849.54" rx="1.7" ry="2.1" fill="rgba(0,0,0,0.55)"/><circle cx="1814.37" cy="849.54" r="23.9" fill="rgba(255,255,255,0.5)" stroke="rgba(0,0,0,0.5)" stroke-width="3"/><ellipse cx="1790.77" cy="849.54" rx="1.7" ry="2.1" fill="rgba(0,0,0,0.55)"/><circle cx="1863.63" cy="849.54" r="23.9" fill="rgba(255,255,255,0.5)" stroke="rgba(0,0,0,0.5)" stroke-width="3"/><ellipse cx="1840.03" cy="849.54" rx="1.7" ry="2.1" fill="rgba(0,0,0,0.55)"/><circle cx="1912.88" cy="849.54" r="23.9" fill="rgba(255,255,255,0.5)" stroke="rgba(0,0,0,0.5)" stroke-width="3"/><ellipse cx="1889.28" cy="849.54" rx="1.7" ry="2.1" fill="rgba(0,0,0,0.55)"/><circle cx="2257.66" cy="849.54" r="23.9" fill="rgba(255,255,255,0.5)" stroke="rgba(0,0,0,0.5)" stroke-width="3"/><ellipse cx="2234.06" cy="849.54" rx="1.7" ry="2.1" fill="rgba(0,0,0,0.55)"/><circle cx="2306.92" cy="849.54" r="23.9" fill="rgba(255,255,255,0.5)" stroke="rgba(0,0,0,0.5)" stroke-width="3"/><ellipse cx="2283.32" cy="849.54" rx="1.7" ry="2.1" fill="rgba(0,0,0,0.55)"/><circle cx="2897.97" cy="849.54" r="23.9" fill="rgba(255,255,255,0.5)" stroke="rgba(0,0,0,0.5)" stroke-width="3"/><ellipse cx="2874.37" cy="849.54" rx="1.7" ry="2.1" fill="rgba(0,0,0,0.55)"/><circle cx="2947.23" cy="849.54" r="23.9" fill="rgba(255,255,255,0.5)" stroke="rgba(0,0,0,0.5)" stroke-width="3"/><ellipse cx="2923.63" cy="849.54" rx="1.7" ry="2.1" fill="rgba(0,0,0,0.55)"/><circle cx="730.77" cy="906.46" r="23.9" fill="rgba(255,255,255,0.5)" stroke="rgba(0,0,0,0.5)" stroke-width="3"/><ellipse cx="707.17" cy="906.46" rx="1.7" ry="2.1" fill="rgba(0,0,0,0.55)"/><circle cx="780.03" cy="906.46" r="23.9" fill="rgba(255,255,255,0.5)" stroke="rgba(0,0,0,0.5)" stroke-width="3"/><ellipse cx="756.43" cy="906.46" rx="1.7" ry="2.1" fill="rgba(0,0,0,0.55)"/><circle cx="829.28" cy="906.46" r="23.9" fill="rgba(255,255,255,0.5)" stroke="rgba(0,0,0,0.5)" stroke-width="3"/><ellipse cx="805.68" cy="906.46" rx="1.7" ry="2.1" fill="rgba(0,0,0,0.55)"/><circle cx="878.54" cy="906.46" r="23.9" fill="rgba(255,255,255,0.5)" stroke="rgba(0,0,0,0.5)" stroke-width="3"/><ellipse cx="854.94" cy="906.46" rx="1.7" ry="2.1" fill="rgba(0,0,0,0.55)"/><circle cx="977.05" cy="906.46" r="23.9" fill="rgba(255,255,255,0.5)" stroke="rgba(0,0,0,0.5)" stroke-width="3"/><ellipse cx="953.45" cy="906.46" rx="1.7" ry="2.1" fill="rgba(0,0,0,0.55)"/><circle cx="1026.30" cy="906.46" r="23.9" fill="rgba(255,255,255,0.5)" stroke="rgba(0,0,0,0.5)" stroke-width="3"/><ellipse cx="1002.70" cy="906.46" rx="1.7" ry="2.1" fill="rgba(0,0,0,0.55)"/><circle cx="1075.55" cy="906.46" r="23.9" fill="rgba(255,255,255,0.5)" stroke="rgba(0,0,0,0.5)" stroke-width="3"/><ellipse cx="1051.95" cy="906.46" rx="1.7" ry="2.1" fill="rgba(0,0,0,0.55)"/><circle cx="1124.81" cy="906.46" r="23.9" fill="rgba(255,255,255,0.5)" stroke="rgba(0,0,0,0.5)" stroke-width="3"/><ellipse cx="1101.21" cy="906.46" rx="1.7" ry="2.1" fill="rgba(0,0,0,0.55)"/><circle cx="1174.06" cy="906.46" r="23.9" fill="rgba(255,255,255,0.5)" stroke="rgba(0,0,0,0.5)" stroke-width="3"/><ellipse cx="1150.46" cy="906.46" rx="1.7" ry="2.1" fill="rgba(0,0,0,0.55)"/><circle cx="1223.32" cy="906.46" r="23.9" fill="rgba(255,255,255,0.5)" stroke="rgba(0,0,0,0.5)" stroke-width="3"/><ellipse cx="1199.72" cy="906.46" rx="1.7" ry="2.1" fill="rgba(0,0,0,0.55)"/><circle cx="1272.57" cy="906.46" r="23.9" fill="rgba(255,255,255,0.5)" stroke="rgba(0,0,0,0.5)" stroke-width="3"/><ellipse cx="1248.97" cy="906.46" rx="1.7" ry="2.1" fill="rgba(0,0,0,0.55)"/><circle cx="1321.83" cy="906.46" r="23.9" fill="rgba(255,255,255,0.5)" stroke="rgba(0,0,0,0.5)" stroke-width="3"/><ellipse cx="1298.23" cy="906.46" rx="1.7" ry="2.1" fill="rgba(0,0,0,0.55)"/><circle cx="1371.08" cy="906.46" r="23.9" fill="rgba(255,255,255,0.5)" stroke="rgba(0,0,0,0.5)" stroke-width="3"/><ellipse cx="1347.48" cy="906.46" rx="1.7" ry="2.1" fill="rgba(0,0,0,0.55)"/><circle cx="1420.34" cy="906.46" r="23.9" fill="rgba(255,255,255,0.5)" stroke="rgba(0,0,0,0.5)" stroke-width="3"/><ellipse cx="1396.74" cy="906.46" rx="1.7" ry="2.1" fill="rgba(0,0,0,0.55)"/><circle cx="1469.59" cy="906.46" r="23.9" fill="rgba(255,255,255,0.5)" stroke="rgba(0,0,0,0.5)" stroke-width="3"/><ellipse cx="1445.99" cy="906.46" rx="1.7" ry="2.1" fill="rgba(0,0,0,0.55)"/><circle cx="1518.85" cy="906.46" r="23.9" fill="rgba(255,255,255,0.5)" stroke="rgba(0,0,0,0.5)" stroke-width="3"/><ellipse cx="1495.25" cy="906.46" rx="1.7" ry="2.1" fill="rgba(0,0,0,0.55)"/><circle cx="1617.35" cy="906.46" r="23.9" fill="rgba(255,255,255,0.5)" stroke="rgba(0,0,0,0.5)" stroke-width="3"/><ellipse cx="1593.75" cy="906.46" rx="1.7" ry="2.1" fill="rgba(0,0,0,0.55)"/><circle cx="1666.61" cy="906.46" r="23.9" fill="rgba(255,255,255,0.5)" stroke="rgba(0,0,0,0.5)" stroke-width="3"/><ellipse cx="1643.01" cy="906.46" rx="1.7" ry="2.1" fill="rgba(0,0,0,0.55)"/><circle cx="1715.86" cy="906.46" r="23.9" fill="rgba(255,255,255,0.5)" stroke="rgba(0,0,0,0.5)" stroke-width="3"/><ellipse cx="1692.26" cy="906.46" rx="1.7" ry="2.1" fill="rgba(0,0,0,0.55)"/><circle cx="1765.12" cy="906.46" r="23.9" fill="rgba(255,255,255,0.5)" stroke="rgba(0,0,0,0.5)" stroke-width="3"/><ellipse cx="1741.52" cy="906.46" rx="1.7" ry="2.1" fill="rgba(0,0,0,0.55)"/><circle cx="1814.37" cy="906.46" r="23.9" fill="rgba(255,255,255,0.5)" stroke="rgba(0,0,0,0.5)" stroke-width="3"/><ellipse cx="1790.77" cy="906.46" rx="1.7" ry="2.1" fill="rgba(0,0,0,0.55)"/><circle cx="1863.63" cy="906.46" r="23.9" fill="rgba(255,255,255,0.5)" stroke="rgba(0,0,0,0.5)" stroke-width="3"/><ellipse cx="1840.03" cy="906.46" rx="1.7" ry="2.1" fill="rgba(0,0,0,0.55)"/><circle cx="1912.88" cy="906.46" r="23.9" fill="rgba(255,255,255,0.5)" stroke="rgba(0,0,0,0.5)" stroke-width="3"/><ellipse cx="1889.28" cy="906.46" rx="1.7" ry="2.1" fill="rgba(0,0,0,0.55)"/><circle cx="2257.66" cy="906.46" r="23.9" fill="rgba(255,255,255,0.5)" stroke="rgba(0,0,0,0.5)" stroke-width="3"/><ellipse cx="2234.06" cy="906.46" rx="1.7" ry="2.1" fill="rgba(0,0,0,0.55)"/><circle cx="2306.92" cy="906.46" r="23.9" fill="rgba(255,255,255,0.5)" stroke="rgba(0,0,0,0.5)" stroke-width="3"/><ellipse cx="2283.32" cy="906.46" rx="1.7" ry="2.1" fill="rgba(0,0,0,0.55)"/><circle cx="2356.17" cy="906.46" r="23.9" fill="rgba(255,255,255,0.5)" stroke="rgba(0,0,0,0.5)" stroke-width="3"/><ellipse cx="2332.57" cy="906.46" rx="1.7" ry="2.1" fill="rgba(0,0,0,0.55)"/><circle cx="2405.43" cy="906.46" r="23.9" fill="rgba(255,255,255,0.5)" stroke="rgba(0,0,0,0.5)" stroke-width="3"/><ellipse cx="2381.83" cy="906.46" rx="1.7" ry="2.1" fill="rgba(0,0,0,0.55)"/><circle cx="2454.68" cy="906.46" r="23.9" fill="rgba(255,255,255,0.5)" stroke="rgba(0,0,0,0.5)" stroke-width="3"/><ellipse cx="2431.08" cy="906.46" rx="1.7" ry="2.1" fill="rgba(0,0,0,0.55)"/><circle cx="2503.94" cy="906.46" r="23.9" fill="rgba(255,255,255,0.5)" stroke="rgba(0,0,0,0.5)" stroke-width="3"/><ellipse cx="2480.34" cy="906.46" rx="1.7" ry="2.1" fill="rgba(0,0,0,0.55)"/><circle cx="2553.19" cy="906.46" r="23.9" fill="rgba(255,255,255,0.5)" stroke="rgba(0,0,0,0.5)" stroke-width="3"/><ellipse cx="2529.59" cy="906.46" rx="1.7" ry="2.1" fill="rgba(0,0,0,0.55)"/><circle cx="2897.97" cy="906.46" r="23.9" fill="rgba(255,255,255,0.5)" stroke="rgba(0,0,0,0.5)" stroke-width="3"/><ellipse cx="2874.37" cy="906.46" rx="1.7" ry="2.1" fill="rgba(0,0,0,0.55)"/><circle cx="2947.23" cy="906.46" r="23.9" fill="rgba(255,255,255,0.5)" stroke="rgba(0,0,0,0.5)" stroke-width="3"/><ellipse cx="2923.63" cy="906.46" rx="1.7" ry="2.1" fill="rgba(0,0,0,0.55)"/><circle cx="730.77" cy="963.38" r="23.9" fill="rgba(255,255,255,0.5)" stroke="rgba(0,0,0,0.5)" stroke-width="3"/><ellipse cx="707.17" cy="963.38" rx="1.7" ry="2.1" fill="rgba(0,0,0,0.55)"/><circle cx="780.03" cy="963.38" r="23.9" fill="rgba(255,255,255,0.5)" stroke="rgba(0,0,0,0.5)" stroke-width="3"/><ellipse cx="756.43" cy="963.38" rx="1.7" ry="2.1" fill="rgba(0,0,0,0.55)"/><circle cx="829.28" cy="963.38" r="23.9" fill="rgba(255,255,255,0.5)" stroke="rgba(0,0,0,0.5)" stroke-width="3"/><ellipse cx="805.68" cy="963.38" rx="1.7" ry="2.1" fill="rgba(0,0,0,0.55)"/><circle cx="878.54" cy="963.38" r="23.9" fill="rgba(255,255,255,0.5)" stroke="rgba(0,0,0,0.5)" stroke-width="3"/><ellipse cx="854.94" cy="963.38" rx="1.7" ry="2.1" fill="rgba(0,0,0,0.55)"/><circle cx="977.05" cy="963.38" r="23.9" fill="rgba(255,255,255,0.5)" stroke="rgba(0,0,0,0.5)" stroke-width="3"/><ellipse cx="953.45" cy="963.38" rx="1.7" ry="2.1" fill="rgba(0,0,0,0.55)"/><circle cx="1026.30" cy="963.38" r="23.9" fill="rgba(255,255,255,0.5)" stroke="rgba(0,0,0,0.5)" stroke-width="3"/><ellipse cx="1002.70" cy="963.38" rx="1.7" ry="2.1" fill="rgba(0,0,0,0.55)"/><circle cx="1075.55" cy="963.38" r="23.9" fill="rgba(255,255,255,0.5)" stroke="rgba(0,0,0,0.5)" stroke-width="3"/><ellipse cx="1051.95" cy="963.38" rx="1.7" ry="2.1" fill="rgba(0,0,0,0.55)"/><circle cx="1124.81" cy="963.38" r="23.9" fill="rgba(255,255,255,0.5)" stroke="rgba(0,0,0,0.5)" stroke-width="3"/><ellipse cx="1101.21" cy="963.38" rx="1.7" ry="2.1" fill="rgba(0,0,0,0.55)"/><circle cx="1174.06" cy="963.38" r="23.9" fill="rgba(255,255,255,0.5)" stroke="rgba(0,0,0,0.5)" stroke-width="3"/><ellipse cx="1150.46" cy="963.38" rx="1.7" ry="2.1" fill="rgba(0,0,0,0.55)"/><circle cx="1223.32" cy="963.38" r="23.9" fill="rgba(255,255,255,0.5)" stroke="rgba(0,0,0,0.5)" stroke-width="3"/><ellipse cx="1199.72" cy="963.38" rx="1.7" ry="2.1" fill="rgba(0,0,0,0.55)"/><circle cx="1272.57" cy="963.38" r="23.9" fill="rgba(255,255,255,0.5)" stroke="rgba(0,0,0,0.5)" stroke-width="3"/><ellipse cx="1248.97" cy="963.38" rx="1.7" ry="2.1" fill="rgba(0,0,0,0.55)"/><circle cx="1321.83" cy="963.38" r="23.9" fill="rgba(255,255,255,0.5)" stroke="rgba(0,0,0,0.5)" stroke-width="3"/><ellipse cx="1298.23" cy="963.38" rx="1.7" ry="2.1" fill="rgba(0,0,0,0.55)"/><circle cx="1371.08" cy="963.38" r="23.9" fill="rgba(255,255,255,0.5)" stroke="rgba(0,0,0,0.5)" stroke-width="3"/><ellipse cx="1347.48" cy="963.38" rx="1.7" ry="2.1" fill="rgba(0,0,0,0.55)"/><circle cx="1420.34" cy="963.38" r="23.9" fill="rgba(255,255,255,0.5)" stroke="rgba(0,0,0,0.5)" stroke-width="3"/><ellipse cx="1396.74" cy="963.38" rx="1.7" ry="2.1" fill="rgba(0,0,0,0.55)"/><circle cx="1568.10" cy="963.38" r="23.9" fill="rgba(255,255,255,0.5)" stroke="rgba(0,0,0,0.5)" stroke-width="3"/><ellipse cx="1544.50" cy="963.38" rx="1.7" ry="2.1" fill="rgba(0,0,0,0.55)"/><circle cx="1617.35" cy="963.38" r="23.9" fill="rgba(255,255,255,0.5)" stroke="rgba(0,0,0,0.5)" stroke-width="3"/><ellipse cx="1593.75" cy="963.38" rx="1.7" ry="2.1" fill="rgba(0,0,0,0.55)"/><circle cx="1666.61" cy="963.38" r="23.9" fill="rgba(255,255,255,0.5)" stroke="rgba(0,0,0,0.5)" stroke-width="3"/><ellipse cx="1643.01" cy="963.38" rx="1.7" ry="2.1" fill="rgba(0,0,0,0.55)"/><circle cx="1715.86" cy="963.38" r="23.9" fill="rgba(255,255,255,0.5)" stroke="rgba(0,0,0,0.5)" stroke-width="3"/><ellipse cx="1692.26" cy="963.38" rx="1.7" ry="2.1" fill="rgba(0,0,0,0.55)"/><circle cx="1765.12" cy="963.38" r="23.9" fill="rgba(255,255,255,0.5)" stroke="rgba(0,0,0,0.5)" stroke-width="3"/><ellipse cx="1741.52" cy="963.38" rx="1.7" ry="2.1" fill="rgba(0,0,0,0.55)"/><circle cx="1814.37" cy="963.38" r="23.9" fill="rgba(255,255,255,0.5)" stroke="rgba(0,0,0,0.5)" stroke-width="3"/><ellipse cx="1790.77" cy="963.38" rx="1.7" ry="2.1" fill="rgba(0,0,0,0.55)"/><circle cx="1863.63" cy="963.38" r="23.9" fill="rgba(255,255,255,0.5)" stroke="rgba(0,0,0,0.5)" stroke-width="3"/><ellipse cx="1840.03" cy="963.38" rx="1.7" ry="2.1" fill="rgba(0,0,0,0.55)"/><circle cx="1912.88" cy="963.38" r="23.9" fill="rgba(255,255,255,0.5)" stroke="rgba(0,0,0,0.5)" stroke-width="3"/><ellipse cx="1889.28" cy="963.38" rx="1.7" ry="2.1" fill="rgba(0,0,0,0.55)"/><circle cx="2257.66" cy="963.38" r="23.9" fill="rgba(255,255,255,0.5)" stroke="rgba(0,0,0,0.5)" stroke-width="3"/><ellipse cx="2234.06" cy="963.38" rx="1.7" ry="2.1" fill="rgba(0,0,0,0.55)"/><circle cx="2306.92" cy="963.38" r="23.9" fill="rgba(255,255,255,0.5)" stroke="rgba(0,0,0,0.5)" stroke-width="3"/><ellipse cx="2283.32" cy="963.38" rx="1.7" ry="2.1" fill="rgba(0,0,0,0.55)"/><circle cx="2356.17" cy="963.38" r="23.9" fill="rgba(255,255,255,0.5)" stroke="rgba(0,0,0,0.5)" stroke-width="3"/><ellipse cx="2332.57" cy="963.38" rx="1.7" ry="2.1" fill="rgba(0,0,0,0.55)"/><circle cx="2405.43" cy="963.38" r="23.9" fill="rgba(255,255,255,0.5)" stroke="rgba(0,0,0,0.5)" stroke-width="3"/><ellipse cx="2381.83" cy="963.38" rx="1.7" ry="2.1" fill="rgba(0,0,0,0.55)"/><circle cx="2454.68" cy="963.38" r="23.9" fill="rgba(255,255,255,0.5)" stroke="rgba(0,0,0,0.5)" stroke-width="3"/><ellipse cx="2431.08" cy="963.38" rx="1.7" ry="2.1" fill="rgba(0,0,0,0.55)"/><circle cx="2503.94" cy="963.38" r="23.9" fill="rgba(255,255,255,0.5)" stroke="rgba(0,0,0,0.5)" stroke-width="3"/><ellipse cx="2480.34" cy="963.38" rx="1.7" ry="2.1" fill="rgba(0,0,0,0.55)"/><circle cx="2897.97" cy="963.38" r="23.9" fill="rgba(255,255,255,0.5)" stroke="rgba(0,0,0,0.5)" stroke-width="3"/><ellipse cx="2874.37" cy="963.38" rx="1.7" ry="2.1" fill="rgba(0,0,0,0.55)"/><circle cx="2947.23" cy="963.38" r="23.9" fill="rgba(255,255,255,0.5)" stroke="rgba(0,0,0,0.5)" stroke-width="3"/><ellipse cx="2923.63" cy="963.38" rx="1.7" ry="2.1" fill="rgba(0,0,0,0.55)"/><circle cx="730.77" cy="1020.30" r="23.9" fill="rgba(255,255,255,0.5)" stroke="rgba(0,0,0,0.5)" stroke-width="3"/><ellipse cx="707.17" cy="1020.30" rx="1.7" ry="2.1" fill="rgba(0,0,0,0.55)"/><circle cx="780.03" cy="1020.30" r="23.9" fill="rgba(255,255,255,0.5)" stroke="rgba(0,0,0,0.5)" stroke-width="3"/><ellipse cx="756.43" cy="1020.30" rx="1.7" ry="2.1" fill="rgba(0,0,0,0.55)"/><circle cx="829.28" cy="1020.30" r="23.9" fill="rgba(255,255,255,0.5)" stroke="rgba(0,0,0,0.5)" stroke-width="3"/><ellipse cx="805.68" cy="1020.30" rx="1.7" ry="2.1" fill="rgba(0,0,0,0.55)"/><circle cx="878.54" cy="1020.30" r="23.9" fill="rgba(255,255,255,0.5)" stroke="rgba(0,0,0,0.5)" stroke-width="3"/><ellipse cx="854.94" cy="1020.30" rx="1.7" ry="2.1" fill="rgba(0,0,0,0.55)"/><circle cx="977.05" cy="1020.30" r="23.9" fill="rgba(255,255,255,0.5)" stroke="rgba(0,0,0,0.5)" stroke-width="3"/><ellipse cx="953.45" cy="1020.30" rx="1.7" ry="2.1" fill="rgba(0,0,0,0.55)"/><circle cx="1026.30" cy="1020.30" r="23.9" fill="rgba(255,255,255,0.5)" stroke="rgba(0,0,0,0.5)" stroke-width="3"/><ellipse cx="1002.70" cy="1020.30" rx="1.7" ry="2.1" fill="rgba(0,0,0,0.55)"/><circle cx="1075.55" cy="1020.30" r="23.9" fill="rgba(255,255,255,0.5)" stroke="rgba(0,0,0,0.5)" stroke-width="3"/><ellipse cx="1051.95" cy="1020.30" rx="1.7" ry="2.1" fill="rgba(0,0,0,0.55)"/><circle cx="1124.81" cy="1020.30" r="23.9" fill="rgba(255,255,255,0.5)" stroke="rgba(0,0,0,0.5)" stroke-width="3"/><ellipse cx="1101.21" cy="1020.30" rx="1.7" ry="2.1" fill="rgba(0,0,0,0.55)"/><circle cx="1272.57" cy="1020.30" r="23.9" fill="rgba(255,255,255,0.5)" stroke="rgba(0,0,0,0.5)" stroke-width="3"/><ellipse cx="1248.97" cy="1020.30" rx="1.7" ry="2.1" fill="rgba(0,0,0,0.55)"/><circle cx="1371.08" cy="1020.30" r="23.9" fill="rgba(255,255,255,0.5)" stroke="rgba(0,0,0,0.5)" stroke-width="3"/><ellipse cx="1347.48" cy="1020.30" rx="1.7" ry="2.1" fill="rgba(0,0,0,0.55)"/><circle cx="1420.34" cy="1020.30" r="23.9" fill="rgba(255,255,255,0.5)" stroke="rgba(0,0,0,0.5)" stroke-width="3"/><ellipse cx="1396.74" cy="1020.30" rx="1.7" ry="2.1" fill="rgba(0,0,0,0.55)"/><circle cx="1617.35" cy="1020.30" r="23.9" fill="rgba(255,255,255,0.5)" stroke="rgba(0,0,0,0.5)" stroke-width="3"/><ellipse cx="1593.75" cy="1020.30" rx="1.7" ry="2.1" fill="rgba(0,0,0,0.55)"/><circle cx="1765.12" cy="1020.30" r="23.9" fill="rgba(255,255,255,0.5)" stroke="rgba(0,0,0,0.5)" stroke-width="3"/><ellipse cx="1741.52" cy="1020.30" rx="1.7" ry="2.1" fill="rgba(0,0,0,0.55)"/><circle cx="1814.37" cy="1020.30" r="23.9" fill="rgba(255,255,255,0.5)" stroke="rgba(0,0,0,0.5)" stroke-width="3"/><ellipse cx="1790.77" cy="1020.30" rx="1.7" ry="2.1" fill="rgba(0,0,0,0.55)"/><circle cx="1863.63" cy="1020.30" r="23.9" fill="rgba(255,255,255,0.5)" stroke="rgba(0,0,0,0.5)" stroke-width="3"/><ellipse cx="1840.03" cy="1020.30" rx="1.7" ry="2.1" fill="rgba(0,0,0,0.55)"/><circle cx="1912.88" cy="1020.30" r="23.9" fill="rgba(255,255,255,0.5)" stroke="rgba(0,0,0,0.5)" stroke-width="3"/><ellipse cx="1889.28" cy="1020.30" rx="1.7" ry="2.1" fill="rgba(0,0,0,0.55)"/><circle cx="2306.92" cy="1020.30" r="23.9" fill="rgba(255,255,255,0.5)" stroke="rgba(0,0,0,0.5)" stroke-width="3"/><ellipse cx="2283.32" cy="1020.30" rx="1.7" ry="2.1" fill="rgba(0,0,0,0.55)"/><circle cx="2356.17" cy="1020.30" r="23.9" fill="rgba(255,255,255,0.5)" stroke="rgba(0,0,0,0.5)" stroke-width="3"/><ellipse cx="2332.57" cy="1020.30" rx="1.7" ry="2.1" fill="rgba(0,0,0,0.55)"/><circle cx="2405.43" cy="1020.30" r="23.9" fill="rgba(255,255,255,0.5)" stroke="rgba(0,0,0,0.5)" stroke-width="3"/><ellipse cx="2381.83" cy="1020.30" rx="1.7" ry="2.1" fill="rgba(0,0,0,0.55)"/><circle cx="2897.97" cy="1020.30" r="23.9" fill="rgba(255,255,255,0.5)" stroke="rgba(0,0,0,0.5)" stroke-width="3"/><ellipse cx="2874.37" cy="1020.30" rx="1.7" ry="2.1" fill="rgba(0,0,0,0.55)"/><circle cx="2947.23" cy="1020.30" r="23.9" fill="rgba(255,255,255,0.5)" stroke="rgba(0,0,0,0.5)" stroke-width="3"/><ellipse cx="2923.63" cy="1020.30" rx="1.7" ry="2.1" fill="rgba(0,0,0,0.55)"/></g>
<rect x="435.4" y="132.5" width="2787.5" height="921.9" fill="none" stroke="#000" stroke-width="4.44" stroke-linejoin="round"/>
<path d="M423.94 166.50H435.4M423.94 223.42H435.4M423.94 280.34H435.4M423.94 337.26H435.4M423.94 394.18H435.4M423.94 451.10H435.4M423.94 508.02H435.4M423.94 564.94H435.4M423.94 621.86H435.4M423.94 678.78H435.4M423.94 735.70H435.4M423.94 792.62H435.4M423.94 849.54H435.4M423.94 906.46H435.4M423.94 963.38H435.4M423.94 1020.30H435.4M484.50 1054.4V1065.86M533.75 1054.4V1065.86M583.01 1054.4V1065.86M632.26 1054.4V1065.86M681.52 1054.4V1065.86M730.77 1054.4V1065.86M780.03 1054.4V1065.86M829.28 1054.4V1065.86M878.54 1054.4V1065.86M927.79 1054.4V1065.86M977.05 1054.4V1065.86M1026.30 1054.4V1065.86M1075.55 1054.4V1065.86M1124.81 1054.4V1065.86M1174.06 1054.4V1065.86M1223.32 1054.4V1065.86M1272.57 1054.4V1065.86M1321.83 1054.4V1065.86M1371.08 1054.4V1065.86M1420.34 1054.4V1065.86M1469.59 1054.4V1065.86M1518.85 1054.4V1065.86M1568.10 1054.4V1065.86M1617.35 1054.4V1065.86M1666.61 1054.4V1065.86M1715.86 1054.4V1065.86M1765.12 1054.4V1065.86M1814.37 1054.4V1065.86M1863.63 1054.4V1065.86M1912.88 1054.4V1065.86M1962.14 1054.4V1065.86M2011.39 1054.4V1065.86M2060.65 1054.4V1065.86M2109.90 1054.4V1065.86M2159.15 1054.4V1065.86M2208.41 1054.4V1065.86M2257.66 1054.4V1065.86M2306.92 1054.4V1065.86M2356.17 1054.4V1065.86M2405.43 1054.4V1065.86M2454.68 1054.4V1065.86M2503.94 1054.4V1065.86M2553.19 1054.4V1065.86M2602.45 1054.4V1065.86M2651.70 1054.4V1065.86M2700.95 1054.4V1065.86M2750.21 1054.4V1065.86M2799.46 1054.4V1065.86M2848.72 1054.4V1065.86M2897.97 1054.4V1065.86M2947.23 1054.4V1065.86M2996.48 1054.4V1065.86M3045.74 1054.4V1065.86M3094.99 1054.4V1065.86M3144.25 1054.4V1065.86M3193.50 1054.4V1065.86" stroke="#333333" stroke-width="4.44" fill="none"/>
<text transform="translate(414.77,180.10) scale(1,1.03)" font-size="37.5" fill="#4d4d4d" text-anchor="end">Progenitors</text>
<text transform="translate(414.77,237.02) scale(1,1.03)" font-size="37.5" fill="#4d4d4d" text-anchor="end">Plasma cells</text>
<text transform="translate(414.77,293.94) scale(1,1.03)" font-size="37.5" fill="#4d4d4d" text-anchor="end">Physiology B cells</text>
<text transform="translate(414.77,350.86) scale(1,1.03)" font-size="37.5" fill="#4d4d4d" text-anchor="end">pDCs</text>
<text transform="translate(414.77,407.78) scale(1,1.03)" font-size="37.5" fill="#4d4d4d" text-anchor="end">NK cells</text>
<text transform="translate(414.77,464.70) scale(1,1.03)" font-size="37.5" fill="#4d4d4d" text-anchor="end">Neutrophils</text>
<text transform="translate(414.77,521.62) scale(1,1.03)" font-size="37.5" fill="#4d4d4d" text-anchor="end">Mono/Macro</text>
<text transform="translate(414.77,578.54) scale(1,1.03)" font-size="37.5" fill="#4d4d4d" text-anchor="end">Mast cells</text>
<text transform="translate(414.77,635.46) scale(1,1.03)" font-size="37.5" fill="#4d4d4d" text-anchor="end">Malignant cells</text>
<text transform="translate(414.77,692.38) scale(1,1.03)" font-size="37.5" fill="#4d4d4d" text-anchor="end">Fibroblasts</text>
<text transform="translate(414.77,749.30) scale(1,1.03)" font-size="37.5" fill="#4d4d4d" text-anchor="end">Erythrocytes</text>
<text transform="translate(414.77,806.22) scale(1,1.03)" font-size="37.5" fill="#4d4d4d" text-anchor="end">Endothelial cells</text>
<text transform="translate(414.77,863.14) scale(1,1.03)" font-size="37.5" fill="#4d4d4d" text-anchor="end">cDCs</text>
<text transform="translate(414.77,920.06) scale(1,1.03)" font-size="37.5" fill="#4d4d4d" text-anchor="end">CD8+ T cells</text>
<text transform="translate(414.77,976.98) scale(1,1.03)" font-size="37.5" fill="#4d4d4d" text-anchor="end">CD4+ T cells</text>
<text transform="translate(414.77,1033.90) scale(1,1.03)" font-size="37.5" fill="#4d4d4d" text-anchor="end">B cells</text>
<text transform="translate(484.00,1074.3) rotate(-50.0) translate(0,21.47) scale(1,1.03)" font-size="29.17" fill="#4d4d4d" text-anchor="end">GSE140440</text>
<text transform="translate(533.25,1074.3) rotate(-50.0) translate(0,21.47) scale(1,1.03)" font-size="29.17" fill="#4d4d4d" text-anchor="end">GSE186960</text>
<text transform="translate(582.51,1074.3) rotate(-50.0) translate(0,21.47) scale(1,1.03)" font-size="29.17" fill="#4d4d4d" text-anchor="end">GSE138267</text>
<text transform="translate(631.76,1074.3) rotate(-50.0) translate(0,21.47) scale(1,1.03)" font-size="29.17" fill="#4d4d4d" text-anchor="end">GSE131984_P<tspan dx="-1.17">a</tspan>c</text>
<text transform="translate(681.02,1074.3) rotate(-50.0) translate(0,21.47) scale(1,1.03)" font-size="29.17" fill="#4d4d4d" text-anchor="end">GSE163836</text>
<text transform="translate(730.27,1074.3) rotate(-50.0) translate(0,21.47) scale(1,1.03)" font-size="29.17" fill="#4d4d4d" text-anchor="end">GSE169246_P<tspan dx="-1.17">a</tspan>cBlood_post</text>
<text transform="translate(779.53,1074.3) rotate(-50.0) translate(0,21.47) scale(1,1.03)" font-size="29.17" fill="#4d4d4d" text-anchor="end">GSE169246_P<tspan dx="-1.17">a</tspan>cBlood_pre</text>
<text transform="translate(828.78,1074.3) rotate(-50.0) translate(0,21.47) scale(1,1.03)" font-size="29.17" fill="#4d4d4d" text-anchor="end">GSE169246_P<tspan dx="-1.17">a</tspan>cTissue_post</text>
<text transform="translate(878.04,1074.3) rotate(-50.0) translate(0,21.47) scale(1,1.03)" font-size="29.17" fill="#4d4d4d" text-anchor="end">GSE169246_P<tspan dx="-1.17">a</tspan>cTissue_pre</text>
<text transform="translate(927.29,1074.3) rotate(-50.0) translate(0,21.47) scale(1,1.03)" font-size="29.17" fill="#4d4d4d" text-anchor="end">GSE153697</text>
<text transform="translate(976.55,1074.3) rotate(-50.0) translate(0,21.47) scale(1,1.03)" font-size="29.17" fill="#4d4d4d" text-anchor="end">GSE169246_P<tspan dx="-1.17">a</tspan>cAteBlood_post</text>
<text transform="translate(1025.80,1074.3) rotate(-50.0) translate(0,21.47) scale(1,1.03)" font-size="29.17" fill="#4d4d4d" text-anchor="end">GSE169246_P<tspan dx="-1.17">a</tspan>cAteBlood_pre</text>
<text transform="translate(1075.05,1074.3) rotate(-50.0) translate(0,21.47) scale(1,1.03)" font-size="29.17" fill="#4d4d4d" text-anchor="end">GSE169246_P<tspan dx="-1.17">a</tspan>cAteTissue_post</text>
<text transform="translate(1124.31,1074.3) rotate(-50.0) translate(0,21.47) scale(1,1.03)" font-size="29.17" fill="#4d4d4d" text-anchor="end">GSE169246_P<tspan dx="-1.17">a</tspan>cAteTissue_pre</text>
<text transform="translate(1173.56,1074.3) rotate(-50.0) translate(0,21.47) scale(1,1.03)" font-size="29.17" fill="#4d4d4d" text-anchor="end">GSE197268_Axi−cel_post</text>
<text transform="translate(1222.82,1074.3) rotate(-50.0) translate(0,21.47) scale(1,1.03)" font-size="29.17" fill="#4d4d4d" text-anchor="end">GSE197268_Axi−cel_pre</text>
<text transform="translate(1272.07,1074.3) rotate(-50.0) translate(0,21.47) scale(1,1.03)" font-size="29.17" fill="#4d4d4d" text-anchor="end">GSE164551</text>
<text transform="translate(1321.33,1074.3) rotate(-50.0) translate(0,21.47) scale(1,1.03)" font-size="29.17" fill="#4d4d4d" text-anchor="end">PMID34715028_post</text>
<text transform="translate(1370.58,1074.3) rotate(-50.0) translate(0,21.47) scale(1,1.03)" font-size="29.17" fill="#4d4d4d" text-anchor="end">GSE212217_post</text>
<text transform="translate(1419.84,1074.3) rotate(-50.0) translate(0,21.47) scale(1,1.03)" font-size="29.17" fill="#4d4d4d" text-anchor="end">GSE212217_pre</text>
<text transform="translate(1469.09,1074.3) rotate(-50.0) translate(0,21.47) scale(1,1.03)" font-size="29.17" fill="#4d4d4d" text-anchor="end">GSE164237_post</text>
<text transform="translate(1518.35,1074.3) rotate(-50.0) translate(0,21.47) scale(1,1.03)" font-size="29.17" fill="#4d4d4d" text-anchor="end">GSE164237_pre</text>
<text transform="translate(1567.60,1074.3) rotate(-50.0) translate(0,21.47) scale(1,1.03)" font-size="29.17" fill="#4d4d4d" text-anchor="end">GSE150930</text>
<text transform="translate(1616.85,1074.3) rotate(-50.0) translate(0,21.47) scale(1,1.03)" font-size="29.17" fill="#4d4d4d" text-anchor="end">GSE207422_Sin_post</text>
<text transform="translate(1666.11,1074.3) rotate(-50.0) translate(0,21.47) scale(1,1.03)" font-size="29.17" fill="#4d4d4d" text-anchor="end">GSE197268_Tisa−cel_post</text>
<text transform="translate(1715.36,1074.3) rotate(-50.0) translate(0,21.47) scale(1,1.03)" font-size="29.17" fill="#4d4d4d" text-anchor="end">GSE197268_Tisa−cel_pre</text>
<text transform="translate(1764.62,1074.3) rotate(-50.0) translate(0,21.47) scale(1,1.03)" font-size="29.17" fill="#4d4d4d" text-anchor="end">GSE207422_T<tspan dx="-3.50">o</tspan>r_post</text>
<text transform="translate(1813.87,1074.3) rotate(-50.0) translate(0,21.47) scale(1,1.03)" font-size="29.17" fill="#4d4d4d" text-anchor="end">GSE189460_pre</text>
<text transform="translate(1863.13,1074.3) rotate(-50.0) translate(0,21.47) scale(1,1.03)" font-size="29.17" fill="#4d4d4d" text-anchor="end">GSE161801_PI_post</text>
<text transform="translate(1912.38,1074.3) rotate(-50.0) translate(0,21.47) scale(1,1.03)" font-size="29.17" fill="#4d4d4d" text-anchor="end">GSE161801_PI_pre</text>
<text transform="translate(1961.64,1074.3) rotate(-50.0) translate(0,21.47) scale(1,1.03)" font-size="29.17" fill="#4d4d4d" text-anchor="end">GSE139386</text>
<text transform="translate(2010.89,1074.3) rotate(-50.0) translate(0,21.47) scale(1,1.03)" font-size="29.17" fill="#4d4d4d" text-anchor="end">GSE161195_post</text>
<text transform="translate(2060.15,1074.3) rotate(-50.0) translate(0,21.47) scale(1,1.03)" font-size="29.17" fill="#4d4d4d" text-anchor="end">GSE161195_pre</text>
<text transform="translate(2109.40,1074.3) rotate(-50.0) translate(0,21.47) scale(1,1.03)" font-size="29.17" fill="#4d4d4d" text-anchor="end">GSE158457</text>
<text transform="translate(2158.65,1074.3) rotate(-50.0) translate(0,21.47) scale(1,1.03)" font-size="29.17" fill="#4d4d4d" text-anchor="end">GSE168668</text>
<text transform="translate(2207.91,1074.3) rotate(-50.0) translate(0,21.47) scale(1,1.03)" font-size="29.17" fill="#4d4d4d" text-anchor="end">GSE149214</text>
<text transform="translate(2257.16,1074.3) rotate(-50.0) translate(0,21.47) scale(1,1.03)" font-size="29.17" fill="#4d4d4d" text-anchor="end">GSE162117_post</text>
<text transform="translate(2306.42,1074.3) rotate(-50.0) translate(0,21.47) scale(1,1.03)" font-size="29.17" fill="#4d4d4d" text-anchor="end">GSE162117_pre</text>
<text transform="translate(2355.67,1074.3) rotate(-50.0) translate(0,21.47) scale(1,1.03)" font-size="29.17" fill="#4d4d4d" text-anchor="end">GSE199333_post</text>
<text transform="translate(2404.93,1074.3) rotate(-50.0) translate(0,21.47) scale(1,1.03)" font-size="29.17" fill="#4d4d4d" text-anchor="end">GSE199333_pre</text>
<text transform="translate(2454.18,1074.3) rotate(-50.0) translate(0,21.47) scale(1,1.03)" font-size="29.17" fill="#4d4d4d" text-anchor="end">GSE111014_post</text>
<text transform="translate(2503.44,1074.3) rotate(-50.0) translate(0,21.47) scale(1,1.03)" font-size="29.17" fill="#4d4d4d" text-anchor="end">GSE111014_pre</text>
<text transform="translate(2552.69,1074.3) rotate(-50.0) translate(0,21.47) scale(1,1.03)" font-size="29.17" fill="#4d4d4d" text-anchor="end">GSE152469</text>
<text transform="translate(2601.95,1074.3) rotate(-50.0) translate(0,21.47) scale(1,1.03)" font-size="29.17" fill="#4d4d4d" text-anchor="end">GSE131984_JQ1</text>
<text transform="translate(2651.20,1074.3) rotate(-50.0) translate(0,21.47) scale(1,1.03)" font-size="29.17" fill="#4d4d4d" text-anchor="end">GSE131984_JQ1P<tspan dx="-1.17">a</tspan>c</text>
<text transform="translate(2700.45,1074.3) rotate(-50.0) translate(0,21.47) scale(1,1.03)" font-size="29.17" fill="#4d4d4d" text-anchor="end">GSE131984_JQ1P<tspan dx="-1.17">a</tspan>l</text>
<text transform="translate(2749.71,1074.3) rotate(-50.0) translate(0,21.47) scale(1,1.03)" font-size="29.17" fill="#4d4d4d" text-anchor="end">GSE104987</text>
<text transform="translate(2798.96,1074.3) rotate(-50.0) translate(0,21.47) scale(1,1.03)" font-size="29.17" fill="#4d4d4d" text-anchor="end">GSE131984_P<tspan dx="-1.17">a</tspan>l</text>
<text transform="translate(2848.22,1074.3) rotate(-50.0) translate(0,21.47) scale(1,1.03)" font-size="29.17" fill="#4d4d4d" text-anchor="end">GSE108397</text>
<text transform="translate(2897.47,1074.3) rotate(-50.0) translate(0,21.47) scale(1,1.03)" font-size="29.17" fill="#4d4d4d" text-anchor="end">GSE161801_IMiD_post</text>
<text transform="translate(2946.73,1074.3) rotate(-50.0) translate(0,21.47) scale(1,1.03)" font-size="29.17" fill="#4d4d4d" text-anchor="end">GSE161801_IMiD_pre</text>
<text transform="translate(2995.98,1074.3) rotate(-50.0) translate(0,21.47) scale(1,1.03)" font-size="29.17" fill="#4d4d4d" text-anchor="end">GSE175716</text>
<text transform="translate(3045.24,1074.3) rotate(-50.0) translate(0,21.47) scale(1,1.03)" font-size="29.17" fill="#4d4d4d" text-anchor="end">GSE115251</text>
<text transform="translate(3094.49,1074.3) rotate(-50.0) translate(0,21.47) scale(1,1.03)" font-size="29.17" fill="#4d4d4d" text-anchor="end">GSE164897_V<tspan dx="-2.33">e</tspan>m</text>
<text transform="translate(3143.75,1074.3) rotate(-50.0) translate(0,21.47) scale(1,1.03)" font-size="29.17" fill="#4d4d4d" text-anchor="end">GSE164897_V<tspan dx="-2.33">e</tspan>mCob</text>
<text transform="translate(3193.00,1074.3) rotate(-50.0) translate(0,21.47) scale(1,1.03)" font-size="29.17" fill="#4d4d4d" text-anchor="end">GSE164897_V<tspan dx="-2.33">e</tspan>mT<tspan dx="-3.50">r</tspan>a</text>
<path d="M435.1 1418.5H666.8M681.2 1418.5H1602.5M1627.3 1418.5H3045.4" stroke="#000" stroke-width="4.6" fill="none"/>
<g font-size="54.17" fill="#000">
<text class="serif" transform="translate(323.4,1482.5) scale(1,1.045)">Chemotherapy</text>
<text class="serif" transform="translate(1009.8,1482.5) scale(1,1.045)">Immunotherapy</text>
<text class="serif" transform="translate(2224.6,1482.5) scale(1,1.045)">Targeted therapy</text>
</g>
<text transform="translate(3291.3,490.8) scale(1,1.03)" font-size="45.83" fill="#000">Expression</text>
<rect x="3291" y="518.3" width="72.8" height="216.2" fill="#f2f2f2"/>
<circle cx="3327.4" cy="554.3" r="8.1" fill="#dc9a90" stroke="rgba(0,0,0,0.5)" stroke-width="3"/>
<ellipse cx="3319.20" cy="554.3" rx="1.5" ry="1.9" fill="rgba(0,0,0,0.55)"/>
<text transform="translate(3385.7,567.9) scale(1,1.03)" font-size="37.5" fill="#000">Up</text>
<circle cx="3327.4" cy="626.3" r="8.1" fill="#78b0d6" stroke="rgba(0,0,0,0.5)" stroke-width="3"/>
<ellipse cx="3319.20" cy="626.3" rx="1.5" ry="1.9" fill="rgba(0,0,0,0.55)"/>
<text transform="translate(3385.7,639.9) scale(1,1.03)" font-size="37.5" fill="#000">Down</text>
<circle cx="3327.4" cy="698.3" r="8.1" fill="#f8f8f8" stroke="rgba(0,0,0,0.5)" stroke-width="3"/>
<ellipse cx="3319.20" cy="698.3" rx="1.5" ry="1.9" fill="rgba(0,0,0,0.55)"/>
<text transform="translate(3385.7,711.9) scale(1,1.03)" font-size="37.5" fill="#000">None</text>
</svg></body></html>
